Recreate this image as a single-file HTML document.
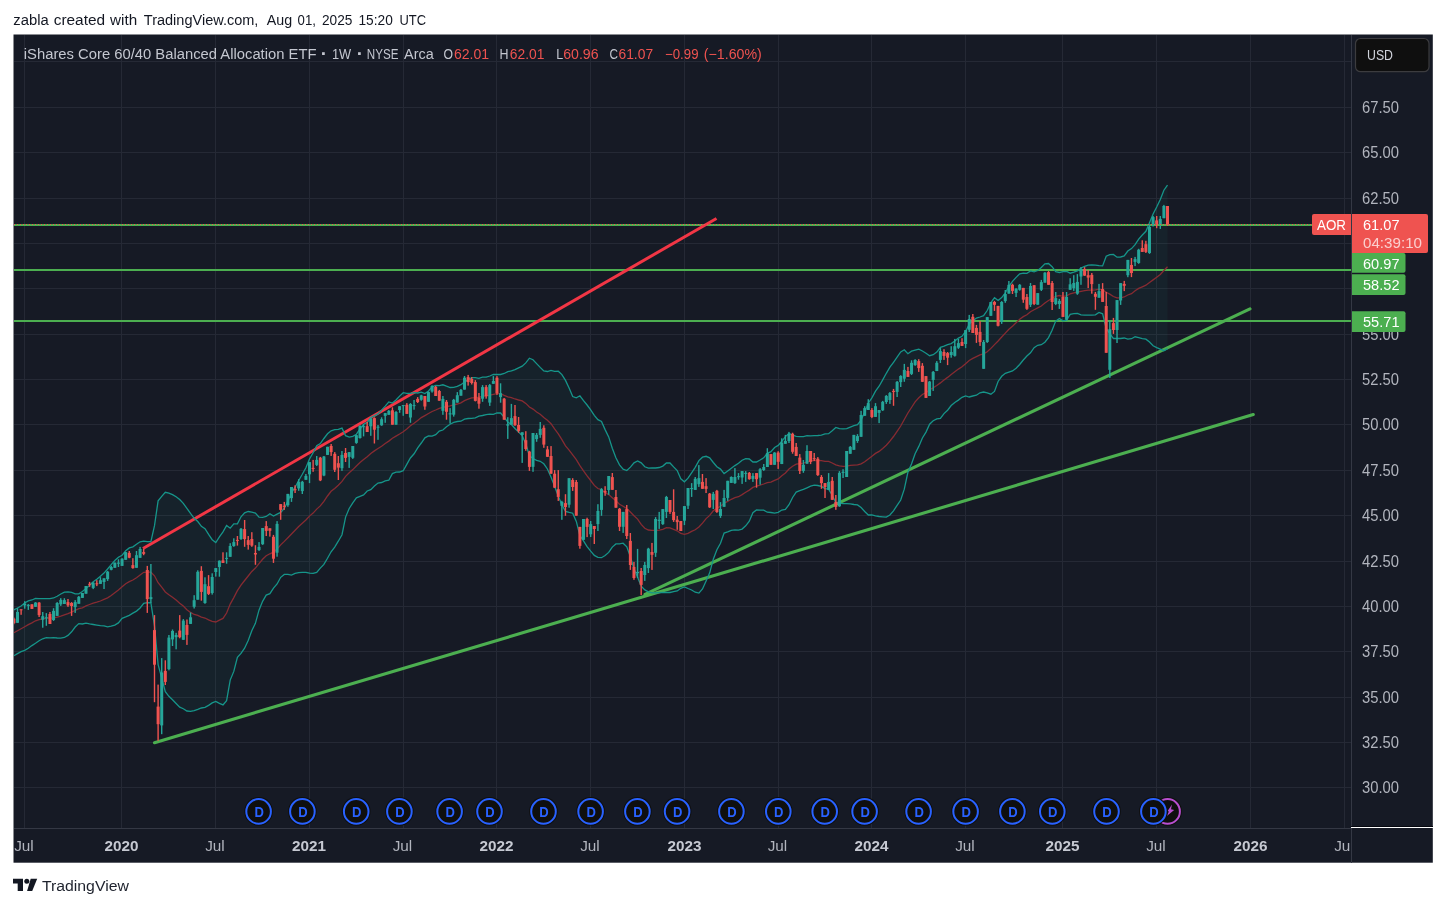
<!DOCTYPE html>
<html><head><meta charset="utf-8"><title>AOR chart</title>
<style>
html,body{margin:0;padding:0;background:#fff;}
body{width:1446px;height:907px;position:relative;overflow:hidden;font-family:'Liberation Sans',sans-serif;}
#hdr{position:absolute;left:13px;top:11px;font-size:14px;line-height:18px;color:#131722;white-space:nowrap;letter-spacing:0.5px;}
#logo{position:absolute;left:13px;top:874px;}
</style></head><body>
<svg width="1446" height="868" viewBox="0 0 1446 868" style="position:absolute;left:0;top:0;display:block">
<defs><clipPath id="pane"><rect x="14" y="35" width="1337" height="793"/></clipPath></defs>
<rect x="13.5" y="34.5" width="1419.3" height="828.2" fill="#161a25"/>
<g fill="#252935" shape-rendering="crispEdges">
<rect x="24" y="35" width="1" height="793"/>
<rect x="121" y="35" width="1" height="793"/>
<rect x="215" y="35" width="1" height="793"/>
<rect x="309" y="35" width="1" height="793"/>
<rect x="403" y="35" width="1" height="793"/>
<rect x="496" y="35" width="1" height="793"/>
<rect x="590" y="35" width="1" height="793"/>
<rect x="684" y="35" width="1" height="793"/>
<rect x="778" y="35" width="1" height="793"/>
<rect x="871" y="35" width="1" height="793"/>
<rect x="965" y="35" width="1" height="793"/>
<rect x="1062" y="35" width="1" height="793"/>
<rect x="1156" y="35" width="1" height="793"/>
<rect x="1250" y="35" width="1" height="793"/>
<rect x="1344" y="35" width="1" height="793"/>
<rect x="14" y="61" width="1337" height="1"/>
<rect x="14" y="107" width="1337" height="1"/>
<rect x="14" y="152" width="1337" height="1"/>
<rect x="14" y="198" width="1337" height="1"/>
<rect x="14" y="243" width="1337" height="1"/>
<rect x="14" y="288" width="1337" height="1"/>
<rect x="14" y="334" width="1337" height="1"/>
<rect x="14" y="379" width="1337" height="1"/>
<rect x="14" y="424" width="1337" height="1"/>
<rect x="14" y="470" width="1337" height="1"/>
<rect x="14" y="515" width="1337" height="1"/>
<rect x="14" y="561" width="1337" height="1"/>
<rect x="14" y="606" width="1337" height="1"/>
<rect x="14" y="651" width="1337" height="1"/>
<rect x="14" y="697" width="1337" height="1"/>
<rect x="14" y="742" width="1337" height="1"/>
<rect x="14" y="787" width="1337" height="1"/>
</g>
<g clip-path="url(#pane)">
<polygon points="13.9,609.9 17.5,608.0 21.1,606.0 24.7,603.0 28.3,600.9 31.9,600.0 35.5,598.3 39.1,598.6 42.7,598.7 46.3,598.7 49.9,598.7 53.6,598.0 57.2,596.3 60.8,594.0 64.4,592.2 68.0,591.8 71.6,592.4 75.2,593.8 78.8,593.8 82.4,591.5 86.0,588.6 89.6,585.2 93.2,581.8 96.8,579.3 100.4,576.2 104.0,573.1 107.6,569.0 111.2,564.7 114.8,560.5 118.4,557.2 122.1,555.2 125.7,550.8 129.3,547.9 132.9,546.9 136.5,544.3 140.1,541.8 143.7,541.2 147.3,541.6 150.9,541.6 154.5,525.7 158.1,500.8 161.7,496.3 165.3,492.3 168.9,493.1 172.5,494.7 176.1,496.7 179.7,499.6 183.3,503.4 186.9,508.3 190.5,513.4 194.2,518.3 197.8,521.5 201.4,526.3 205.0,528.6 208.6,534.4 212.2,539.7 215.8,542.6 219.4,536.8 223.0,531.9 226.6,525.5 230.2,528.2 233.8,523.9 237.4,523.8 241.0,516.8 244.6,512.8 248.2,511.5 251.8,512.2 255.4,513.0 259.0,517.2 262.6,517.3 266.2,516.5 269.9,513.8 273.5,516.0 277.1,514.2 280.7,512.4 284.3,508.3 287.9,501.0 291.5,492.8 295.1,487.2 298.7,480.5 302.3,474.3 305.9,467.7 309.5,459.0 313.1,452.8 316.7,445.8 320.3,443.6 323.9,438.5 327.5,433.8 331.1,430.8 334.7,429.7 338.3,429.3 342.0,428.1 345.6,435.7 349.2,437.1 352.8,436.4 356.4,434.2 360.0,429.0 363.6,424.3 367.2,422.4 370.8,417.5 374.4,415.9 378.0,413.9 381.6,410.1 385.2,406.1 388.8,401.9 392.4,403.0 396.0,400.0 399.6,396.1 403.2,392.7 406.8,393.4 410.4,393.4 414.1,392.7 417.7,393.0 421.3,392.2 424.9,393.5 428.5,391.0 432.1,386.8 435.7,385.3 439.3,385.6 442.9,384.8 446.5,386.2 450.1,387.5 453.7,387.4 457.3,386.4 460.9,384.7 464.5,382.0 468.1,379.7 471.7,377.6 475.3,377.6 478.9,378.3 482.5,377.2 486.2,377.2 489.8,376.0 493.4,374.3 497.0,374.5 500.6,374.5 504.2,373.5 507.8,371.6 511.4,370.8 515.0,369.6 518.6,367.8 522.2,366.2 525.8,362.9 529.4,358.2 533.0,359.7 536.6,363.6 540.2,367.4 543.8,371.0 547.4,371.5 551.0,370.4 554.6,371.3 558.3,371.2 561.9,374.6 565.5,380.4 569.1,387.9 572.7,396.5 576.3,397.9 579.9,395.8 583.5,400.7 587.1,405.0 590.7,409.9 594.3,415.3 597.9,419.7 601.5,421.5 605.1,429.6 608.7,436.9 612.3,448.3 615.9,457.7 619.5,464.8 623.1,469.2 626.8,470.5 630.4,467.1 634.0,462.8 637.6,461.0 641.2,462.8 644.8,466.8 648.4,468.1 652.0,468.0 655.6,468.0 659.2,467.5 662.8,466.1 666.4,462.9 670.0,463.0 673.6,466.9 677.2,470.6 680.8,478.8 684.4,481.8 688.0,478.2 691.6,472.8 695.2,467.3 698.9,460.6 702.5,457.2 706.1,456.3 709.7,457.9 713.3,462.5 716.9,466.7 720.5,469.1 724.1,473.6 727.7,471.0 731.3,468.3 734.9,465.6 738.5,463.2 742.1,460.2 745.7,458.7 749.3,459.0 752.9,462.0 756.5,462.0 760.1,460.0 763.7,457.8 767.3,453.3 770.9,451.7 774.6,447.5 778.2,445.4 781.8,441.3 785.4,436.6 789.0,433.5 792.6,435.0 796.2,436.3 799.8,436.6 803.4,436.7 807.0,435.7 810.6,435.9 814.2,435.7 817.8,435.5 821.4,435.1 825.0,433.9 828.6,433.7 832.2,430.7 835.8,427.4 839.4,428.7 843.0,428.9 846.7,428.7 850.3,427.1 853.9,425.6 857.5,424.7 861.1,420.2 864.7,411.9 868.3,403.1 871.9,397.8 875.5,391.1 879.1,386.2 882.7,379.9 886.3,373.3 889.9,367.2 893.5,362.3 897.1,357.2 900.7,352.0 904.3,349.8 907.9,353.7 911.5,351.1 915.1,350.1 918.8,349.1 922.4,351.0 926.0,353.2 929.6,355.7 933.2,354.7 936.8,352.1 940.4,347.4 944.0,346.1 947.6,344.7 951.2,343.6 954.8,341.1 958.4,338.1 962.0,336.3 965.6,331.5 969.2,324.1 972.8,320.8 976.4,318.1 980.0,317.0 983.6,315.7 987.2,310.5 990.9,302.7 994.5,297.7 998.1,300.4 1001.7,297.6 1005.3,292.9 1008.9,286.3 1012.5,281.4 1016.1,277.4 1019.7,273.9 1023.3,273.1 1026.9,273.4 1030.5,270.9 1034.1,271.8 1037.7,270.5 1041.3,267.4 1044.9,263.9 1048.5,263.5 1052.1,266.7 1055.7,271.6 1059.4,272.5 1063.0,271.6 1066.6,271.5 1070.2,273.2 1073.8,272.1 1077.4,270.9 1081.0,268.0 1084.6,266.3 1088.2,265.1 1091.8,265.0 1095.4,265.1 1099.0,265.7 1102.6,265.9 1106.2,256.2 1109.8,254.6 1113.4,254.4 1117.0,257.2 1120.6,257.0 1124.2,256.0 1127.8,251.0 1131.5,248.6 1135.1,244.7 1138.7,239.1 1142.3,235.0 1145.9,231.3 1149.5,222.8 1153.1,213.9 1156.7,207.0 1160.3,199.6 1163.9,190.2 1167.5,185.1 1167.5,348.6 1163.9,350.7 1160.3,349.1 1156.7,347.6 1153.1,345.8 1149.5,342.1 1145.9,339.2 1142.3,338.6 1138.7,337.7 1135.1,336.8 1131.5,338.7 1127.8,339.1 1124.2,338.0 1120.6,338.5 1117.0,338.5 1113.4,338.5 1109.8,333.6 1106.2,328.4 1102.6,313.8 1099.0,312.4 1095.4,314.8 1091.8,315.2 1088.2,315.2 1084.6,315.1 1081.0,314.9 1077.4,313.5 1073.8,313.6 1070.2,314.4 1066.6,320.2 1063.0,320.9 1059.4,318.5 1055.7,321.1 1052.1,330.3 1048.5,337.6 1044.9,342.2 1041.3,344.7 1037.7,345.3 1034.1,347.7 1030.5,352.8 1026.9,356.0 1023.3,360.0 1019.7,364.5 1016.1,368.2 1012.5,370.9 1008.9,372.1 1005.3,373.3 1001.7,376.3 998.1,381.5 994.5,391.4 990.9,394.2 987.2,392.9 983.6,392.0 980.0,392.8 976.4,395.2 972.8,396.0 969.2,397.0 965.6,395.9 962.0,397.3 958.4,400.1 954.8,402.4 951.2,405.5 947.6,410.2 944.0,413.6 940.4,418.4 936.8,418.9 933.2,420.8 929.6,424.2 926.0,432.1 922.4,438.0 918.8,446.4 915.1,453.7 911.5,463.9 907.9,472.3 904.3,489.2 900.7,500.0 897.1,505.4 893.5,510.8 889.9,515.0 886.3,517.1 882.7,516.8 879.1,516.5 875.5,515.8 871.9,514.9 868.3,515.0 864.7,511.5 861.1,507.6 857.5,504.9 853.9,504.5 850.3,503.8 846.7,503.7 843.0,503.6 839.4,503.2 835.8,502.5 832.2,495.2 828.6,489.1 825.0,488.6 821.4,486.4 817.8,485.5 814.2,485.2 810.6,486.2 807.0,487.8 803.4,489.4 799.8,490.7 796.2,492.1 792.6,497.5 789.0,504.7 785.4,509.4 781.8,510.0 778.2,512.4 774.6,513.1 770.9,512.5 767.3,512.2 763.7,510.2 760.1,510.2 756.5,510.0 752.9,512.7 749.3,521.2 745.7,525.8 742.1,529.1 738.5,530.1 734.9,529.8 731.3,530.3 727.7,531.9 724.1,533.1 720.5,543.3 716.9,549.7 713.3,559.2 709.7,572.8 706.1,580.9 702.5,588.9 698.9,593.1 695.2,592.2 691.6,590.0 688.0,588.5 684.4,586.9 680.8,588.3 677.2,591.0 673.6,591.7 670.0,592.5 666.4,592.5 662.8,592.5 659.2,592.7 655.6,592.9 652.0,592.9 648.4,591.8 644.8,589.9 641.2,586.1 637.6,577.2 634.0,568.8 630.4,556.9 626.8,546.8 623.1,543.2 619.5,543.8 615.9,543.9 612.3,547.1 608.7,552.4 605.1,555.5 601.5,557.7 597.9,557.3 594.3,555.4 590.7,551.2 587.1,546.7 583.5,540.9 579.9,535.7 576.3,521.4 572.7,513.2 569.1,512.4 565.5,511.4 561.9,504.7 558.3,496.3 554.6,486.2 551.0,477.1 547.4,469.0 543.8,463.8 540.2,461.3 536.6,460.4 533.0,458.5 529.4,455.8 525.8,443.9 522.2,435.6 518.6,432.1 515.0,428.5 511.4,424.6 507.8,422.1 504.2,417.4 500.6,413.0 497.0,412.9 493.4,414.4 489.8,414.1 486.2,414.6 482.5,415.5 478.9,416.1 475.3,417.8 471.7,418.3 468.1,418.5 464.5,419.1 460.9,421.2 457.3,421.5 453.7,422.4 450.1,424.2 446.5,426.8 442.9,430.0 439.3,431.1 435.7,434.6 432.1,436.2 428.5,436.0 424.9,437.8 421.3,443.0 417.7,447.8 414.1,453.8 410.4,458.0 406.8,464.4 403.2,470.7 399.6,472.0 396.0,472.1 392.4,473.6 388.8,480.2 385.2,480.9 381.6,482.5 378.0,483.0 374.4,486.0 370.8,489.6 367.2,491.0 363.6,494.9 360.0,496.3 356.4,497.8 352.8,502.8 349.2,508.5 345.6,517.1 342.0,534.7 338.3,541.2 334.7,547.1 331.1,551.8 327.5,558.3 323.9,564.4 320.3,568.1 316.7,572.4 313.1,573.4 309.5,573.2 305.9,572.3 302.3,572.3 298.7,572.6 295.1,573.4 291.5,575.1 287.9,574.3 284.3,574.4 280.7,577.3 277.1,584.0 273.5,588.2 269.9,593.7 266.2,595.1 262.6,601.3 259.0,610.2 255.4,623.3 251.8,630.7 248.2,640.5 244.6,648.2 241.0,653.4 237.4,657.4 233.8,671.4 230.2,680.1 226.6,700.6 223.0,704.9 219.4,703.4 215.8,701.4 212.2,702.9 208.6,705.4 205.0,707.4 201.4,708.0 197.8,709.4 194.2,710.6 190.5,711.4 186.9,711.0 183.3,708.7 179.7,707.1 176.1,703.5 172.5,699.8 168.9,696.3 165.3,691.7 161.7,677.9 158.1,664.6 154.5,625.9 150.9,602.8 147.3,602.7 143.7,603.4 140.1,608.0 136.5,611.1 132.9,613.1 129.3,615.3 125.7,616.9 122.1,618.4 118.4,622.9 114.8,625.1 111.2,626.2 107.6,626.8 104.0,625.8 100.4,625.7 96.8,625.1 93.2,624.5 89.6,623.9 86.0,623.2 82.4,624.0 78.8,623.6 75.2,627.0 71.6,631.8 68.0,635.4 64.4,637.5 60.8,638.2 57.2,638.0 53.6,637.7 49.9,637.8 46.3,637.7 42.7,638.8 39.1,640.7 35.5,643.3 31.9,645.6 28.3,648.3 24.7,650.3 21.1,651.7 17.5,653.6 13.9,655.7" fill="#26a69a" fill-opacity="0.06"/>
<line x1="14" y1="225.0" x2="1351" y2="225.0" stroke="#4caf50" stroke-width="2" shape-rendering="crispEdges"/>
<line x1="14" y1="270.0" x2="1351" y2="270.0" stroke="#4caf50" stroke-width="2" shape-rendering="crispEdges"/>
<line x1="14" y1="321.0" x2="1351" y2="321.0" stroke="#4caf50" stroke-width="2" shape-rendering="crispEdges"/>
<line x1="143" y1="548.5" x2="716.5" y2="218.5" stroke="#f23645" stroke-width="3"/>
<line x1="154.5" y1="742.7" x2="1253.3" y2="414.6" stroke="#4caf50" stroke-width="3.1" stroke-linecap="round"/>
<line x1="645" y1="594.4" x2="1250" y2="308.8" stroke="#4caf50" stroke-width="3.1" stroke-linecap="round"/>
<polyline points="13.9,632.8 17.5,630.8 21.1,628.8 24.7,626.7 28.3,624.6 31.9,622.8 35.5,620.8 39.1,619.6 42.7,618.8 46.3,618.2 49.9,618.2 53.6,617.9 57.2,617.1 60.8,616.1 64.4,614.8 68.0,613.6 71.6,612.1 75.2,610.4 78.8,608.7 82.4,607.8 86.0,605.9 89.6,604.5 93.2,603.2 96.8,602.2 100.4,601.0 104.0,599.4 107.6,597.9 111.2,595.5 114.8,592.8 118.4,590.0 122.1,586.8 125.7,583.8 129.3,581.6 132.9,580.0 136.5,577.7 140.1,574.9 143.7,572.3 147.3,572.2 150.9,572.2 154.5,575.8 158.1,582.7 161.7,587.1 165.3,592.0 168.9,594.7 172.5,597.2 176.1,600.1 179.7,603.3 183.3,606.0 186.9,609.7 190.5,612.4 194.2,614.5 197.8,615.4 201.4,617.2 205.0,618.0 208.6,619.9 212.2,621.3 215.8,622.0 219.4,620.1 223.0,618.4 226.6,613.0 230.2,604.1 233.8,597.6 237.4,590.6 241.0,585.1 244.6,580.5 248.2,576.0 251.8,571.4 255.4,568.1 259.0,563.7 262.6,559.3 266.2,555.8 269.9,553.8 273.5,552.1 277.1,549.1 280.7,544.9 284.3,541.4 287.9,537.7 291.5,534.0 295.1,530.3 298.7,526.5 302.3,523.3 305.9,520.0 309.5,516.1 313.1,513.1 316.7,509.1 320.3,505.9 323.9,501.4 327.5,496.0 331.1,491.3 334.7,488.4 338.3,485.2 342.0,481.4 345.6,476.4 349.2,472.8 352.8,469.6 356.4,466.0 360.0,462.6 363.6,459.6 367.2,456.7 370.8,453.5 374.4,450.9 378.0,448.5 381.6,446.3 385.2,443.5 388.8,441.1 392.4,438.3 396.0,436.1 399.6,434.0 403.2,431.7 406.8,428.9 410.4,425.7 414.1,423.2 417.7,420.4 421.3,417.6 424.9,415.6 428.5,413.5 432.1,411.5 435.7,410.0 439.3,408.4 442.9,407.4 446.5,406.5 450.1,405.8 453.7,404.9 457.3,404.0 460.9,402.9 464.5,400.6 468.1,399.1 471.7,397.9 475.3,397.7 478.9,397.2 482.5,396.4 486.2,395.9 489.8,395.1 493.4,394.4 497.0,393.7 500.6,393.7 504.2,395.4 507.8,396.8 511.4,397.7 515.0,399.0 518.6,400.0 522.2,400.9 525.8,403.4 529.4,407.0 533.0,409.1 536.6,412.0 540.2,414.3 543.8,417.4 547.4,420.2 551.0,423.7 554.6,428.8 558.3,433.8 561.9,439.6 565.5,445.9 569.1,450.2 572.7,454.9 576.3,459.7 579.9,465.7 583.5,470.8 587.1,475.9 590.7,480.5 594.3,485.4 597.9,488.5 601.5,489.6 605.1,492.6 608.7,494.6 612.3,497.7 615.9,500.8 619.5,504.3 623.1,506.2 626.8,508.6 630.4,512.0 634.0,515.8 637.6,519.1 641.2,524.4 644.8,528.3 648.4,530.0 652.0,530.4 655.6,530.4 659.2,530.1 662.8,529.3 666.4,527.7 670.0,527.8 673.6,529.3 677.2,530.8 680.8,533.5 684.4,534.3 688.0,533.4 691.6,531.4 695.2,529.8 698.9,526.9 702.5,523.1 706.1,518.6 709.7,515.4 713.3,510.8 716.9,508.2 720.5,506.2 724.1,503.3 727.7,501.4 731.3,499.3 734.9,497.7 738.5,496.7 742.1,494.6 745.7,492.3 749.3,490.1 752.9,487.4 756.5,486.0 760.1,485.1 763.7,484.0 767.3,482.7 770.9,482.1 774.6,480.3 778.2,478.9 781.8,475.7 785.4,473.0 789.0,469.1 792.6,466.3 796.2,464.2 799.8,463.7 803.4,463.1 807.0,461.8 810.6,461.0 814.2,460.4 817.8,460.5 821.4,460.7 825.0,461.3 828.6,461.4 832.2,463.0 835.8,464.9 839.4,465.9 843.0,466.3 846.7,466.2 850.3,465.4 853.9,465.1 857.5,464.8 861.1,463.9 864.7,461.7 868.3,459.0 871.9,456.3 875.5,453.4 879.1,451.4 882.7,448.4 886.3,445.2 889.9,441.1 893.5,436.5 897.1,431.3 900.7,426.0 904.3,419.5 907.9,413.0 911.5,407.5 915.1,401.9 918.8,397.8 922.4,394.5 926.0,392.7 929.6,389.9 933.2,387.8 936.8,385.5 940.4,382.9 944.0,379.9 947.6,377.4 951.2,374.5 954.8,371.8 958.4,369.1 962.0,366.8 965.6,363.7 969.2,360.5 972.8,358.4 976.4,356.6 980.0,354.9 983.6,353.9 987.2,351.7 990.9,348.4 994.5,344.6 998.1,341.0 1001.7,337.0 1005.3,333.1 1008.9,329.2 1012.5,326.2 1016.1,322.8 1019.7,319.2 1023.3,316.6 1026.9,314.7 1030.5,311.8 1034.1,309.7 1037.7,307.9 1041.3,306.0 1044.9,303.0 1048.5,300.5 1052.1,298.5 1055.7,296.3 1059.4,295.5 1063.0,296.3 1066.6,295.9 1070.2,293.8 1073.8,292.8 1077.4,292.2 1081.0,291.4 1084.6,290.7 1088.2,290.1 1091.8,290.1 1095.4,289.9 1099.0,289.1 1102.6,289.8 1106.2,292.3 1109.8,294.1 1113.4,296.5 1117.0,297.9 1120.6,297.8 1124.2,297.0 1127.8,295.0 1131.5,293.7 1135.1,290.8 1138.7,288.4 1142.3,286.8 1145.9,285.2 1149.5,282.5 1153.1,279.9 1156.7,277.3 1160.3,274.4 1163.9,270.5 1167.5,266.8" fill="none" stroke="#872b32" stroke-width="1.3"/>
<polyline points="13.9,609.9 17.5,608.0 21.1,606.0 24.7,603.0 28.3,600.9 31.9,600.0 35.5,598.3 39.1,598.6 42.7,598.7 46.3,598.7 49.9,598.7 53.6,598.0 57.2,596.3 60.8,594.0 64.4,592.2 68.0,591.8 71.6,592.4 75.2,593.8 78.8,593.8 82.4,591.5 86.0,588.6 89.6,585.2 93.2,581.8 96.8,579.3 100.4,576.2 104.0,573.1 107.6,569.0 111.2,564.7 114.8,560.5 118.4,557.2 122.1,555.2 125.7,550.8 129.3,547.9 132.9,546.9 136.5,544.3 140.1,541.8 143.7,541.2 147.3,541.6 150.9,541.6 154.5,525.7 158.1,500.8 161.7,496.3 165.3,492.3 168.9,493.1 172.5,494.7 176.1,496.7 179.7,499.6 183.3,503.4 186.9,508.3 190.5,513.4 194.2,518.3 197.8,521.5 201.4,526.3 205.0,528.6 208.6,534.4 212.2,539.7 215.8,542.6 219.4,536.8 223.0,531.9 226.6,525.5 230.2,528.2 233.8,523.9 237.4,523.8 241.0,516.8 244.6,512.8 248.2,511.5 251.8,512.2 255.4,513.0 259.0,517.2 262.6,517.3 266.2,516.5 269.9,513.8 273.5,516.0 277.1,514.2 280.7,512.4 284.3,508.3 287.9,501.0 291.5,492.8 295.1,487.2 298.7,480.5 302.3,474.3 305.9,467.7 309.5,459.0 313.1,452.8 316.7,445.8 320.3,443.6 323.9,438.5 327.5,433.8 331.1,430.8 334.7,429.7 338.3,429.3 342.0,428.1 345.6,435.7 349.2,437.1 352.8,436.4 356.4,434.2 360.0,429.0 363.6,424.3 367.2,422.4 370.8,417.5 374.4,415.9 378.0,413.9 381.6,410.1 385.2,406.1 388.8,401.9 392.4,403.0 396.0,400.0 399.6,396.1 403.2,392.7 406.8,393.4 410.4,393.4 414.1,392.7 417.7,393.0 421.3,392.2 424.9,393.5 428.5,391.0 432.1,386.8 435.7,385.3 439.3,385.6 442.9,384.8 446.5,386.2 450.1,387.5 453.7,387.4 457.3,386.4 460.9,384.7 464.5,382.0 468.1,379.7 471.7,377.6 475.3,377.6 478.9,378.3 482.5,377.2 486.2,377.2 489.8,376.0 493.4,374.3 497.0,374.5 500.6,374.5 504.2,373.5 507.8,371.6 511.4,370.8 515.0,369.6 518.6,367.8 522.2,366.2 525.8,362.9 529.4,358.2 533.0,359.7 536.6,363.6 540.2,367.4 543.8,371.0 547.4,371.5 551.0,370.4 554.6,371.3 558.3,371.2 561.9,374.6 565.5,380.4 569.1,387.9 572.7,396.5 576.3,397.9 579.9,395.8 583.5,400.7 587.1,405.0 590.7,409.9 594.3,415.3 597.9,419.7 601.5,421.5 605.1,429.6 608.7,436.9 612.3,448.3 615.9,457.7 619.5,464.8 623.1,469.2 626.8,470.5 630.4,467.1 634.0,462.8 637.6,461.0 641.2,462.8 644.8,466.8 648.4,468.1 652.0,468.0 655.6,468.0 659.2,467.5 662.8,466.1 666.4,462.9 670.0,463.0 673.6,466.9 677.2,470.6 680.8,478.8 684.4,481.8 688.0,478.2 691.6,472.8 695.2,467.3 698.9,460.6 702.5,457.2 706.1,456.3 709.7,457.9 713.3,462.5 716.9,466.7 720.5,469.1 724.1,473.6 727.7,471.0 731.3,468.3 734.9,465.6 738.5,463.2 742.1,460.2 745.7,458.7 749.3,459.0 752.9,462.0 756.5,462.0 760.1,460.0 763.7,457.8 767.3,453.3 770.9,451.7 774.6,447.5 778.2,445.4 781.8,441.3 785.4,436.6 789.0,433.5 792.6,435.0 796.2,436.3 799.8,436.6 803.4,436.7 807.0,435.7 810.6,435.9 814.2,435.7 817.8,435.5 821.4,435.1 825.0,433.9 828.6,433.7 832.2,430.7 835.8,427.4 839.4,428.7 843.0,428.9 846.7,428.7 850.3,427.1 853.9,425.6 857.5,424.7 861.1,420.2 864.7,411.9 868.3,403.1 871.9,397.8 875.5,391.1 879.1,386.2 882.7,379.9 886.3,373.3 889.9,367.2 893.5,362.3 897.1,357.2 900.7,352.0 904.3,349.8 907.9,353.7 911.5,351.1 915.1,350.1 918.8,349.1 922.4,351.0 926.0,353.2 929.6,355.7 933.2,354.7 936.8,352.1 940.4,347.4 944.0,346.1 947.6,344.7 951.2,343.6 954.8,341.1 958.4,338.1 962.0,336.3 965.6,331.5 969.2,324.1 972.8,320.8 976.4,318.1 980.0,317.0 983.6,315.7 987.2,310.5 990.9,302.7 994.5,297.7 998.1,300.4 1001.7,297.6 1005.3,292.9 1008.9,286.3 1012.5,281.4 1016.1,277.4 1019.7,273.9 1023.3,273.1 1026.9,273.4 1030.5,270.9 1034.1,271.8 1037.7,270.5 1041.3,267.4 1044.9,263.9 1048.5,263.5 1052.1,266.7 1055.7,271.6 1059.4,272.5 1063.0,271.6 1066.6,271.5 1070.2,273.2 1073.8,272.1 1077.4,270.9 1081.0,268.0 1084.6,266.3 1088.2,265.1 1091.8,265.0 1095.4,265.1 1099.0,265.7 1102.6,265.9 1106.2,256.2 1109.8,254.6 1113.4,254.4 1117.0,257.2 1120.6,257.0 1124.2,256.0 1127.8,251.0 1131.5,248.6 1135.1,244.7 1138.7,239.1 1142.3,235.0 1145.9,231.3 1149.5,222.8 1153.1,213.9 1156.7,207.0 1160.3,199.6 1163.9,190.2 1167.5,185.1" fill="none" stroke="#16958a" stroke-width="1.3"/>
<polyline points="13.9,655.7 17.5,653.6 21.1,651.7 24.7,650.3 28.3,648.3 31.9,645.6 35.5,643.3 39.1,640.7 42.7,638.8 46.3,637.7 49.9,637.8 53.6,637.7 57.2,638.0 60.8,638.2 64.4,637.5 68.0,635.4 71.6,631.8 75.2,627.0 78.8,623.6 82.4,624.0 86.0,623.2 89.6,623.9 93.2,624.5 96.8,625.1 100.4,625.7 104.0,625.8 107.6,626.8 111.2,626.2 114.8,625.1 118.4,622.9 122.1,618.4 125.7,616.9 129.3,615.3 132.9,613.1 136.5,611.1 140.1,608.0 143.7,603.4 147.3,602.7 150.9,602.8 154.5,625.9 158.1,664.6 161.7,677.9 165.3,691.7 168.9,696.3 172.5,699.8 176.1,703.5 179.7,707.1 183.3,708.7 186.9,711.0 190.5,711.4 194.2,710.6 197.8,709.4 201.4,708.0 205.0,707.4 208.6,705.4 212.2,702.9 215.8,701.4 219.4,703.4 223.0,704.9 226.6,700.6 230.2,680.1 233.8,671.4 237.4,657.4 241.0,653.4 244.6,648.2 248.2,640.5 251.8,630.7 255.4,623.3 259.0,610.2 262.6,601.3 266.2,595.1 269.9,593.7 273.5,588.2 277.1,584.0 280.7,577.3 284.3,574.4 287.9,574.3 291.5,575.1 295.1,573.4 298.7,572.6 302.3,572.3 305.9,572.3 309.5,573.2 313.1,573.4 316.7,572.4 320.3,568.1 323.9,564.4 327.5,558.3 331.1,551.8 334.7,547.1 338.3,541.2 342.0,534.7 345.6,517.1 349.2,508.5 352.8,502.8 356.4,497.8 360.0,496.3 363.6,494.9 367.2,491.0 370.8,489.6 374.4,486.0 378.0,483.0 381.6,482.5 385.2,480.9 388.8,480.2 392.4,473.6 396.0,472.1 399.6,472.0 403.2,470.7 406.8,464.4 410.4,458.0 414.1,453.8 417.7,447.8 421.3,443.0 424.9,437.8 428.5,436.0 432.1,436.2 435.7,434.6 439.3,431.1 442.9,430.0 446.5,426.8 450.1,424.2 453.7,422.4 457.3,421.5 460.9,421.2 464.5,419.1 468.1,418.5 471.7,418.3 475.3,417.8 478.9,416.1 482.5,415.5 486.2,414.6 489.8,414.1 493.4,414.4 497.0,412.9 500.6,413.0 504.2,417.4 507.8,422.1 511.4,424.6 515.0,428.5 518.6,432.1 522.2,435.6 525.8,443.9 529.4,455.8 533.0,458.5 536.6,460.4 540.2,461.3 543.8,463.8 547.4,469.0 551.0,477.1 554.6,486.2 558.3,496.3 561.9,504.7 565.5,511.4 569.1,512.4 572.7,513.2 576.3,521.4 579.9,535.7 583.5,540.9 587.1,546.7 590.7,551.2 594.3,555.4 597.9,557.3 601.5,557.7 605.1,555.5 608.7,552.4 612.3,547.1 615.9,543.9 619.5,543.8 623.1,543.2 626.8,546.8 630.4,556.9 634.0,568.8 637.6,577.2 641.2,586.1 644.8,589.9 648.4,591.8 652.0,592.9 655.6,592.9 659.2,592.7 662.8,592.5 666.4,592.5 670.0,592.5 673.6,591.7 677.2,591.0 680.8,588.3 684.4,586.9 688.0,588.5 691.6,590.0 695.2,592.2 698.9,593.1 702.5,588.9 706.1,580.9 709.7,572.8 713.3,559.2 716.9,549.7 720.5,543.3 724.1,533.1 727.7,531.9 731.3,530.3 734.9,529.8 738.5,530.1 742.1,529.1 745.7,525.8 749.3,521.2 752.9,512.7 756.5,510.0 760.1,510.2 763.7,510.2 767.3,512.2 770.9,512.5 774.6,513.1 778.2,512.4 781.8,510.0 785.4,509.4 789.0,504.7 792.6,497.5 796.2,492.1 799.8,490.7 803.4,489.4 807.0,487.8 810.6,486.2 814.2,485.2 817.8,485.5 821.4,486.4 825.0,488.6 828.6,489.1 832.2,495.2 835.8,502.5 839.4,503.2 843.0,503.6 846.7,503.7 850.3,503.8 853.9,504.5 857.5,504.9 861.1,507.6 864.7,511.5 868.3,515.0 871.9,514.9 875.5,515.8 879.1,516.5 882.7,516.8 886.3,517.1 889.9,515.0 893.5,510.8 897.1,505.4 900.7,500.0 904.3,489.2 907.9,472.3 911.5,463.9 915.1,453.7 918.8,446.4 922.4,438.0 926.0,432.1 929.6,424.2 933.2,420.8 936.8,418.9 940.4,418.4 944.0,413.6 947.6,410.2 951.2,405.5 954.8,402.4 958.4,400.1 962.0,397.3 965.6,395.9 969.2,397.0 972.8,396.0 976.4,395.2 980.0,392.8 983.6,392.0 987.2,392.9 990.9,394.2 994.5,391.4 998.1,381.5 1001.7,376.3 1005.3,373.3 1008.9,372.1 1012.5,370.9 1016.1,368.2 1019.7,364.5 1023.3,360.0 1026.9,356.0 1030.5,352.8 1034.1,347.7 1037.7,345.3 1041.3,344.7 1044.9,342.2 1048.5,337.6 1052.1,330.3 1055.7,321.1 1059.4,318.5 1063.0,320.9 1066.6,320.2 1070.2,314.4 1073.8,313.6 1077.4,313.5 1081.0,314.9 1084.6,315.1 1088.2,315.2 1091.8,315.2 1095.4,314.8 1099.0,312.4 1102.6,313.8 1106.2,328.4 1109.8,333.6 1113.4,338.5 1117.0,338.5 1120.6,338.5 1124.2,338.0 1127.8,339.1 1131.5,338.7 1135.1,336.8 1138.7,337.7 1142.3,338.6 1145.9,339.2 1149.5,342.1 1153.1,345.8 1156.7,347.6 1160.3,349.1 1163.9,350.7 1167.5,348.6" fill="none" stroke="#16958a" stroke-width="1.3"/>
<g>
<rect x="13.20" y="617.6" width="1.4" height="6.6" fill="#ef5350"/>
<rect x="12.40" y="618.7" width="3" height="4.4" fill="#ef5350"/>
<rect x="16.80" y="608.2" width="1.4" height="14.7" fill="#26a69a"/>
<rect x="16.00" y="612.0" width="3" height="10.8" fill="#26a69a"/>
<rect x="20.41" y="609.3" width="1.4" height="5.5" fill="#ef5350"/>
<rect x="19.61" y="609.3" width="3" height="1.0" fill="#ef5350"/>
<rect x="24.02" y="601.2" width="1.4" height="7.5" fill="#26a69a"/>
<rect x="23.21" y="603.7" width="3" height="1.7" fill="#26a69a"/>
<rect x="27.62" y="604.1" width="1.4" height="5.8" fill="#26a69a"/>
<rect x="26.82" y="604.8" width="3" height="1.1" fill="#26a69a"/>
<rect x="31.22" y="604.3" width="1.4" height="4.6" fill="#ef5350"/>
<rect x="30.42" y="604.3" width="3" height="4.6" fill="#ef5350"/>
<rect x="34.83" y="602.1" width="1.4" height="4.8" fill="#26a69a"/>
<rect x="34.03" y="602.6" width="3" height="4.2" fill="#26a69a"/>
<rect x="38.43" y="602.1" width="1.4" height="14.9" fill="#ef5350"/>
<rect x="37.63" y="602.6" width="3" height="12.5" fill="#ef5350"/>
<rect x="42.04" y="612.0" width="1.4" height="15.7" fill="#26a69a"/>
<rect x="41.24" y="616.2" width="3" height="3.5" fill="#26a69a"/>
<rect x="45.64" y="613.1" width="1.4" height="12.7" fill="#26a69a"/>
<rect x="44.84" y="617.3" width="3" height="1.0" fill="#26a69a"/>
<rect x="49.25" y="612.0" width="1.4" height="11.9" fill="#ef5350"/>
<rect x="48.45" y="614.0" width="3" height="10.0" fill="#ef5350"/>
<rect x="52.85" y="608.2" width="1.4" height="12.7" fill="#26a69a"/>
<rect x="52.05" y="610.9" width="3" height="9.1" fill="#26a69a"/>
<rect x="56.46" y="602.1" width="1.4" height="13.8" fill="#26a69a"/>
<rect x="55.66" y="603.0" width="3" height="12.9" fill="#26a69a"/>
<rect x="60.06" y="598.2" width="1.4" height="7.7" fill="#26a69a"/>
<rect x="59.27" y="599.9" width="3" height="4.4" fill="#26a69a"/>
<rect x="63.67" y="598.2" width="1.4" height="5.8" fill="#26a69a"/>
<rect x="62.87" y="600.1" width="3" height="3.9" fill="#26a69a"/>
<rect x="67.28" y="599.0" width="1.4" height="7.9" fill="#ef5350"/>
<rect x="66.48" y="602.1" width="3" height="3.3" fill="#ef5350"/>
<rect x="70.88" y="602.1" width="1.4" height="13.8" fill="#ef5350"/>
<rect x="70.08" y="603.0" width="3" height="3.0" fill="#ef5350"/>
<rect x="74.48" y="600.1" width="1.4" height="12.8" fill="#26a69a"/>
<rect x="73.69" y="602.1" width="3" height="5.0" fill="#26a69a"/>
<rect x="78.09" y="596.0" width="1.4" height="7.7" fill="#26a69a"/>
<rect x="77.29" y="596.8" width="3" height="7.0" fill="#26a69a"/>
<rect x="81.70" y="593.0" width="1.4" height="4.9" fill="#26a69a"/>
<rect x="80.90" y="593.0" width="3" height="4.9" fill="#26a69a"/>
<rect x="85.30" y="586.0" width="1.4" height="7.7" fill="#26a69a"/>
<rect x="84.50" y="586.0" width="3" height="7.7" fill="#26a69a"/>
<rect x="88.91" y="581.9" width="1.4" height="4.9" fill="#ef5350"/>
<rect x="88.11" y="583.8" width="3" height="1.0" fill="#ef5350"/>
<rect x="92.51" y="582.2" width="1.4" height="6.9" fill="#26a69a"/>
<rect x="91.71" y="582.7" width="3" height="5.2" fill="#26a69a"/>
<rect x="96.12" y="580.2" width="1.4" height="5.9" fill="#ef5350"/>
<rect x="95.32" y="583.3" width="3" height="1.0" fill="#ef5350"/>
<rect x="99.72" y="577.2" width="1.4" height="6.6" fill="#26a69a"/>
<rect x="98.92" y="580.2" width="3" height="3.7" fill="#26a69a"/>
<rect x="103.33" y="578.3" width="1.4" height="10.7" fill="#26a69a"/>
<rect x="102.53" y="578.3" width="3" height="3.7" fill="#26a69a"/>
<rect x="106.93" y="570.9" width="1.4" height="10.0" fill="#26a69a"/>
<rect x="106.13" y="571.7" width="3" height="7.4" fill="#26a69a"/>
<rect x="110.53" y="565.9" width="1.4" height="4.4" fill="#26a69a"/>
<rect x="109.73" y="567.0" width="3" height="2.8" fill="#26a69a"/>
<rect x="114.14" y="562.6" width="1.4" height="5.2" fill="#26a69a"/>
<rect x="113.34" y="562.6" width="3" height="5.2" fill="#26a69a"/>
<rect x="117.75" y="559.3" width="1.4" height="7.7" fill="#26a69a"/>
<rect x="116.95" y="562.6" width="3" height="1.1" fill="#26a69a"/>
<rect x="121.35" y="558.2" width="1.4" height="7.7" fill="#26a69a"/>
<rect x="120.55" y="558.7" width="3" height="7.2" fill="#26a69a"/>
<rect x="124.95" y="552.1" width="1.4" height="7.7" fill="#26a69a"/>
<rect x="124.16" y="552.1" width="3" height="7.7" fill="#26a69a"/>
<rect x="128.56" y="551.0" width="1.4" height="7.2" fill="#ef5350"/>
<rect x="127.76" y="552.9" width="3" height="4.8" fill="#ef5350"/>
<rect x="132.17" y="558.2" width="1.4" height="10.5" fill="#ef5350"/>
<rect x="131.37" y="565.1" width="3" height="3.0" fill="#ef5350"/>
<rect x="135.77" y="551.0" width="1.4" height="16.8" fill="#26a69a"/>
<rect x="134.97" y="555.2" width="3" height="12.6" fill="#26a69a"/>
<rect x="139.38" y="546.9" width="1.4" height="11.0" fill="#26a69a"/>
<rect x="138.57" y="549.0" width="3" height="8.8" fill="#26a69a"/>
<rect x="142.98" y="549.0" width="1.4" height="6.2" fill="#ef5350"/>
<rect x="142.18" y="552.1" width="3" height="1.7" fill="#ef5350"/>
<rect x="146.59" y="565.9" width="1.4" height="47.0" fill="#ef5350"/>
<rect x="145.78" y="570.0" width="3" height="29.1" fill="#ef5350"/>
<rect x="150.19" y="564.0" width="1.4" height="38.9" fill="#26a69a"/>
<rect x="149.39" y="597.1" width="3" height="2.0" fill="#26a69a"/>
<rect x="153.80" y="615.1" width="1.4" height="87.1" fill="#ef5350"/>
<rect x="153.00" y="630.1" width="3" height="34.6" fill="#ef5350"/>
<rect x="157.40" y="684.6" width="1.4" height="56.2" fill="#ef5350"/>
<rect x="156.60" y="706.6" width="3" height="17.6" fill="#ef5350"/>
<rect x="161.01" y="658.1" width="1.4" height="76.1" fill="#26a69a"/>
<rect x="160.21" y="672.5" width="3" height="52.9" fill="#26a69a"/>
<rect x="164.61" y="660.3" width="1.4" height="24.7" fill="#ef5350"/>
<rect x="163.81" y="670.9" width="3" height="11.0" fill="#ef5350"/>
<rect x="168.22" y="635.0" width="1.4" height="35.3" fill="#26a69a"/>
<rect x="167.41" y="637.6" width="3" height="31.5" fill="#26a69a"/>
<rect x="171.82" y="629.5" width="1.4" height="16.5" fill="#26a69a"/>
<rect x="171.02" y="631.0" width="3" height="8.4" fill="#26a69a"/>
<rect x="175.43" y="632.8" width="1.4" height="16.5" fill="#26a69a"/>
<rect x="174.62" y="635.0" width="3" height="2.2" fill="#26a69a"/>
<rect x="179.03" y="615.1" width="1.4" height="23.2" fill="#ef5350"/>
<rect x="178.23" y="630.6" width="3" height="6.6" fill="#ef5350"/>
<rect x="182.64" y="619.1" width="1.4" height="20.7" fill="#26a69a"/>
<rect x="181.84" y="620.6" width="3" height="19.2" fill="#26a69a"/>
<rect x="186.24" y="619.5" width="1.4" height="25.4" fill="#ef5350"/>
<rect x="185.44" y="625.0" width="3" height="9.9" fill="#ef5350"/>
<rect x="189.85" y="612.5" width="1.4" height="11.5" fill="#26a69a"/>
<rect x="189.05" y="617.3" width="3" height="6.6" fill="#26a69a"/>
<rect x="193.45" y="595.2" width="1.4" height="13.3" fill="#26a69a"/>
<rect x="192.65" y="600.2" width="3" height="6.6" fill="#26a69a"/>
<rect x="197.06" y="570.3" width="1.4" height="29.3" fill="#26a69a"/>
<rect x="196.25" y="571.8" width="3" height="27.9" fill="#26a69a"/>
<rect x="200.66" y="566.2" width="1.4" height="34.5" fill="#ef5350"/>
<rect x="199.86" y="570.9" width="3" height="21.0" fill="#ef5350"/>
<rect x="204.27" y="577.3" width="1.4" height="26.5" fill="#26a69a"/>
<rect x="203.47" y="584.2" width="3" height="18.8" fill="#26a69a"/>
<rect x="207.87" y="575.1" width="1.4" height="19.9" fill="#ef5350"/>
<rect x="207.07" y="586.2" width="3" height="7.7" fill="#ef5350"/>
<rect x="211.48" y="573.3" width="1.4" height="21.3" fill="#26a69a"/>
<rect x="210.68" y="577.0" width="3" height="16.0" fill="#26a69a"/>
<rect x="215.08" y="568.1" width="1.4" height="8.5" fill="#26a69a"/>
<rect x="214.28" y="568.1" width="3" height="3.9" fill="#26a69a"/>
<rect x="218.69" y="560.4" width="1.4" height="16.3" fill="#26a69a"/>
<rect x="217.88" y="560.7" width="3" height="6.3" fill="#26a69a"/>
<rect x="222.29" y="552.3" width="1.4" height="10.6" fill="#ef5350"/>
<rect x="221.49" y="560.4" width="3" height="2.5" fill="#ef5350"/>
<rect x="225.90" y="552.3" width="1.4" height="11.4" fill="#26a69a"/>
<rect x="225.09" y="557.9" width="3" height="1.0" fill="#26a69a"/>
<rect x="229.50" y="543.2" width="1.4" height="13.6" fill="#26a69a"/>
<rect x="228.70" y="546.0" width="3" height="10.8" fill="#26a69a"/>
<rect x="233.11" y="538.3" width="1.4" height="8.5" fill="#26a69a"/>
<rect x="232.31" y="542.1" width="3" height="3.9" fill="#26a69a"/>
<rect x="236.71" y="536.0" width="1.4" height="9.6" fill="#ef5350"/>
<rect x="235.91" y="539.9" width="3" height="1.0" fill="#ef5350"/>
<rect x="240.32" y="528.0" width="1.4" height="11.9" fill="#26a69a"/>
<rect x="239.52" y="528.8" width="3" height="10.2" fill="#26a69a"/>
<rect x="243.92" y="520.0" width="1.4" height="26.8" fill="#ef5350"/>
<rect x="243.12" y="529.1" width="3" height="10.0" fill="#ef5350"/>
<rect x="247.53" y="536.0" width="1.4" height="13.6" fill="#ef5350"/>
<rect x="246.72" y="540.1" width="3" height="4.8" fill="#ef5350"/>
<rect x="251.13" y="532.2" width="1.4" height="14.6" fill="#ef5350"/>
<rect x="250.33" y="539.0" width="3" height="6.6" fill="#ef5350"/>
<rect x="254.74" y="545.2" width="1.4" height="19.6" fill="#ef5350"/>
<rect x="253.94" y="553.0" width="3" height="1.5" fill="#ef5350"/>
<rect x="258.34" y="542.1" width="1.4" height="8.8" fill="#26a69a"/>
<rect x="257.54" y="546.9" width="3" height="3.2" fill="#26a69a"/>
<rect x="261.94" y="528.0" width="1.4" height="16.9" fill="#26a69a"/>
<rect x="261.14" y="528.0" width="3" height="16.2" fill="#26a69a"/>
<rect x="265.55" y="521.1" width="1.4" height="14.9" fill="#ef5350"/>
<rect x="264.75" y="526.1" width="3" height="4.8" fill="#ef5350"/>
<rect x="269.16" y="528.3" width="1.4" height="8.3" fill="#ef5350"/>
<rect x="268.36" y="528.3" width="3" height="2.5" fill="#ef5350"/>
<rect x="272.76" y="534.9" width="1.4" height="28.0" fill="#ef5350"/>
<rect x="271.96" y="536.8" width="3" height="21.9" fill="#ef5350"/>
<rect x="276.37" y="521.1" width="1.4" height="35.6" fill="#26a69a"/>
<rect x="275.56" y="523.9" width="3" height="28.8" fill="#26a69a"/>
<rect x="279.97" y="504.1" width="1.4" height="15.7" fill="#ef5350"/>
<rect x="279.17" y="504.1" width="3" height="5.8" fill="#ef5350"/>
<rect x="283.57" y="501.9" width="1.4" height="8.0" fill="#ef5350"/>
<rect x="282.77" y="505.8" width="3" height="1.0" fill="#ef5350"/>
<rect x="287.18" y="493.9" width="1.4" height="12.9" fill="#26a69a"/>
<rect x="286.38" y="493.9" width="3" height="11.3" fill="#26a69a"/>
<rect x="290.78" y="487.0" width="1.4" height="14.9" fill="#26a69a"/>
<rect x="289.98" y="487.0" width="3" height="11.1" fill="#26a69a"/>
<rect x="294.39" y="485.3" width="1.4" height="7.7" fill="#ef5350"/>
<rect x="293.59" y="489.2" width="3" height="1.0" fill="#ef5350"/>
<rect x="298.00" y="479.2" width="1.4" height="11.6" fill="#26a69a"/>
<rect x="297.19" y="481.8" width="3" height="6.6" fill="#26a69a"/>
<rect x="301.60" y="480.9" width="1.4" height="13.1" fill="#26a69a"/>
<rect x="300.80" y="481.8" width="3" height="9.3" fill="#26a69a"/>
<rect x="305.20" y="474.0" width="1.4" height="5.8" fill="#26a69a"/>
<rect x="304.40" y="475.9" width="3" height="3.9" fill="#26a69a"/>
<rect x="308.81" y="462.1" width="1.4" height="21.0" fill="#26a69a"/>
<rect x="308.01" y="462.1" width="3" height="12.2" fill="#26a69a"/>
<rect x="312.41" y="459.9" width="1.4" height="11.9" fill="#ef5350"/>
<rect x="311.61" y="467.9" width="3" height="1.0" fill="#ef5350"/>
<rect x="316.02" y="456.0" width="1.4" height="10.0" fill="#26a69a"/>
<rect x="315.22" y="459.9" width="3" height="5.0" fill="#26a69a"/>
<rect x="319.62" y="456.9" width="1.4" height="24.2" fill="#ef5350"/>
<rect x="318.82" y="457.7" width="3" height="22.7" fill="#ef5350"/>
<rect x="323.23" y="456.0" width="1.4" height="20.2" fill="#26a69a"/>
<rect x="322.43" y="456.5" width="3" height="19.0" fill="#26a69a"/>
<rect x="326.83" y="446.8" width="1.4" height="8.1" fill="#26a69a"/>
<rect x="326.03" y="446.8" width="3" height="8.1" fill="#26a69a"/>
<rect x="330.44" y="444.0" width="1.4" height="11.9" fill="#ef5350"/>
<rect x="329.64" y="446.0" width="3" height="6.1" fill="#ef5350"/>
<rect x="334.04" y="452.1" width="1.4" height="19.9" fill="#ef5350"/>
<rect x="333.24" y="453.8" width="3" height="16.0" fill="#ef5350"/>
<rect x="337.65" y="456.0" width="1.4" height="24.0" fill="#ef5350"/>
<rect x="336.85" y="463.2" width="3" height="4.4" fill="#ef5350"/>
<rect x="341.25" y="451.0" width="1.4" height="19.9" fill="#26a69a"/>
<rect x="340.45" y="454.9" width="3" height="13.3" fill="#26a69a"/>
<rect x="344.86" y="448.0" width="1.4" height="14.0" fill="#ef5350"/>
<rect x="344.06" y="453.0" width="3" height="4.9" fill="#ef5350"/>
<rect x="348.46" y="452.1" width="1.4" height="15.8" fill="#26a69a"/>
<rect x="347.66" y="452.1" width="3" height="4.8" fill="#26a69a"/>
<rect x="352.07" y="446.0" width="1.4" height="12.9" fill="#26a69a"/>
<rect x="351.27" y="446.0" width="3" height="11.8" fill="#26a69a"/>
<rect x="355.68" y="435.2" width="1.4" height="8.6" fill="#26a69a"/>
<rect x="354.88" y="435.2" width="3" height="7.7" fill="#26a69a"/>
<rect x="359.28" y="425.3" width="1.4" height="13.3" fill="#26a69a"/>
<rect x="358.48" y="425.8" width="3" height="12.2" fill="#26a69a"/>
<rect x="362.88" y="424.2" width="1.4" height="12.2" fill="#26a69a"/>
<rect x="362.08" y="426.2" width="3" height="1.0" fill="#26a69a"/>
<rect x="366.49" y="421.9" width="1.4" height="10.0" fill="#ef5350"/>
<rect x="365.69" y="426.2" width="3" height="5.8" fill="#ef5350"/>
<rect x="370.09" y="417.3" width="1.4" height="18.5" fill="#26a69a"/>
<rect x="369.29" y="418.6" width="3" height="7.7" fill="#26a69a"/>
<rect x="373.70" y="417.3" width="1.4" height="26.2" fill="#ef5350"/>
<rect x="372.90" y="418.1" width="3" height="11.6" fill="#ef5350"/>
<rect x="377.31" y="425.0" width="1.4" height="14.8" fill="#26a69a"/>
<rect x="376.50" y="426.7" width="3" height="1.0" fill="#26a69a"/>
<rect x="380.91" y="417.3" width="1.4" height="8.5" fill="#26a69a"/>
<rect x="380.11" y="419.2" width="3" height="6.1" fill="#26a69a"/>
<rect x="384.51" y="413.1" width="1.4" height="9.7" fill="#26a69a"/>
<rect x="383.71" y="413.1" width="3" height="2.8" fill="#26a69a"/>
<rect x="388.12" y="410.0" width="1.4" height="4.8" fill="#26a69a"/>
<rect x="387.32" y="410.9" width="3" height="3.9" fill="#26a69a"/>
<rect x="391.72" y="407.3" width="1.4" height="17.4" fill="#ef5350"/>
<rect x="390.92" y="410.3" width="3" height="14.4" fill="#ef5350"/>
<rect x="395.33" y="411.1" width="1.4" height="13.6" fill="#26a69a"/>
<rect x="394.53" y="412.0" width="3" height="12.7" fill="#26a69a"/>
<rect x="398.94" y="406.2" width="1.4" height="6.6" fill="#26a69a"/>
<rect x="398.13" y="406.2" width="3" height="3.8" fill="#26a69a"/>
<rect x="402.54" y="405.1" width="1.4" height="10.7" fill="#26a69a"/>
<rect x="401.74" y="405.1" width="3" height="1.0" fill="#26a69a"/>
<rect x="406.14" y="403.1" width="1.4" height="10.7" fill="#ef5350"/>
<rect x="405.34" y="404.8" width="3" height="9.1" fill="#ef5350"/>
<rect x="409.75" y="403.1" width="1.4" height="19.7" fill="#26a69a"/>
<rect x="408.95" y="404.0" width="3" height="13.5" fill="#26a69a"/>
<rect x="413.35" y="400.0" width="1.4" height="9.7" fill="#26a69a"/>
<rect x="412.55" y="405.1" width="3" height="1.0" fill="#26a69a"/>
<rect x="416.96" y="397.1" width="1.4" height="5.9" fill="#ef5350"/>
<rect x="416.16" y="398.9" width="3" height="3.1" fill="#ef5350"/>
<rect x="420.56" y="394.8" width="1.4" height="5.9" fill="#26a69a"/>
<rect x="419.76" y="395.4" width="3" height="4.4" fill="#26a69a"/>
<rect x="424.17" y="396.0" width="1.4" height="13.8" fill="#ef5350"/>
<rect x="423.37" y="396.0" width="3" height="10.5" fill="#ef5350"/>
<rect x="427.77" y="391.5" width="1.4" height="10.3" fill="#26a69a"/>
<rect x="426.97" y="392.1" width="3" height="9.7" fill="#26a69a"/>
<rect x="431.38" y="385.2" width="1.4" height="7.4" fill="#26a69a"/>
<rect x="430.58" y="386.0" width="3" height="5.5" fill="#26a69a"/>
<rect x="434.99" y="386.0" width="1.4" height="10.0" fill="#ef5350"/>
<rect x="434.19" y="386.9" width="3" height="9.1" fill="#ef5350"/>
<rect x="438.59" y="389.9" width="1.4" height="10.8" fill="#ef5350"/>
<rect x="437.79" y="391.0" width="3" height="9.7" fill="#ef5350"/>
<rect x="442.19" y="396.0" width="1.4" height="18.8" fill="#26a69a"/>
<rect x="441.39" y="398.9" width="3" height="11.9" fill="#26a69a"/>
<rect x="445.80" y="400.0" width="1.4" height="19.7" fill="#ef5350"/>
<rect x="445.00" y="401.8" width="3" height="10.0" fill="#ef5350"/>
<rect x="449.40" y="408.1" width="1.4" height="15.5" fill="#26a69a"/>
<rect x="448.60" y="413.3" width="3" height="1.1" fill="#26a69a"/>
<rect x="453.01" y="398.9" width="1.4" height="17.7" fill="#26a69a"/>
<rect x="452.21" y="399.8" width="3" height="14.9" fill="#26a69a"/>
<rect x="456.62" y="392.1" width="1.4" height="10.5" fill="#26a69a"/>
<rect x="455.81" y="395.2" width="3" height="7.4" fill="#26a69a"/>
<rect x="460.22" y="389.0" width="1.4" height="6.6" fill="#26a69a"/>
<rect x="459.42" y="389.9" width="3" height="5.8" fill="#26a69a"/>
<rect x="463.82" y="376.0" width="1.4" height="13.6" fill="#26a69a"/>
<rect x="463.02" y="377.7" width="3" height="11.9" fill="#26a69a"/>
<rect x="467.43" y="374.9" width="1.4" height="10.7" fill="#ef5350"/>
<rect x="466.63" y="377.1" width="3" height="5.0" fill="#ef5350"/>
<rect x="471.03" y="377.1" width="1.4" height="7.4" fill="#ef5350"/>
<rect x="470.23" y="379.0" width="3" height="4.0" fill="#ef5350"/>
<rect x="474.64" y="380.1" width="1.4" height="21.3" fill="#ef5350"/>
<rect x="473.84" y="382.1" width="3" height="18.8" fill="#ef5350"/>
<rect x="478.25" y="393.0" width="1.4" height="15.7" fill="#ef5350"/>
<rect x="477.44" y="397.6" width="3" height="6.1" fill="#ef5350"/>
<rect x="481.85" y="385.1" width="1.4" height="16.7" fill="#26a69a"/>
<rect x="481.05" y="387.1" width="3" height="11.6" fill="#26a69a"/>
<rect x="485.45" y="385.1" width="1.4" height="13.6" fill="#ef5350"/>
<rect x="484.65" y="387.1" width="3" height="9.1" fill="#ef5350"/>
<rect x="489.06" y="384.0" width="1.4" height="21.9" fill="#26a69a"/>
<rect x="488.26" y="385.1" width="3" height="17.5" fill="#26a69a"/>
<rect x="492.66" y="376.1" width="1.4" height="7.7" fill="#26a69a"/>
<rect x="491.86" y="381.0" width="3" height="2.8" fill="#26a69a"/>
<rect x="496.27" y="376.1" width="1.4" height="18.8" fill="#ef5350"/>
<rect x="495.47" y="377.7" width="3" height="15.5" fill="#ef5350"/>
<rect x="499.88" y="383.3" width="1.4" height="19.4" fill="#26a69a"/>
<rect x="499.07" y="393.2" width="3" height="3.9" fill="#26a69a"/>
<rect x="503.48" y="398.0" width="1.4" height="21.8" fill="#ef5350"/>
<rect x="502.68" y="398.7" width="3" height="21.0" fill="#ef5350"/>
<rect x="507.08" y="417.2" width="1.4" height="21.7" fill="#26a69a"/>
<rect x="506.28" y="424.2" width="3" height="1.4" fill="#26a69a"/>
<rect x="510.69" y="403.9" width="1.4" height="20.8" fill="#26a69a"/>
<rect x="509.89" y="418.1" width="3" height="6.6" fill="#26a69a"/>
<rect x="514.29" y="405.0" width="1.4" height="20.8" fill="#ef5350"/>
<rect x="513.50" y="416.1" width="3" height="9.2" fill="#ef5350"/>
<rect x="517.90" y="417.0" width="1.4" height="15.7" fill="#ef5350"/>
<rect x="517.10" y="425.0" width="3" height="5.9" fill="#ef5350"/>
<rect x="521.50" y="432.3" width="1.4" height="30.6" fill="#26a69a"/>
<rect x="520.71" y="432.3" width="3" height="2.7" fill="#26a69a"/>
<rect x="525.11" y="431.2" width="1.4" height="19.6" fill="#ef5350"/>
<rect x="524.31" y="440.2" width="3" height="8.8" fill="#ef5350"/>
<rect x="528.71" y="450.8" width="1.4" height="20.1" fill="#ef5350"/>
<rect x="527.91" y="451.6" width="3" height="15.3" fill="#ef5350"/>
<rect x="532.32" y="433.0" width="1.4" height="38.8" fill="#26a69a"/>
<rect x="531.52" y="433.0" width="3" height="33.8" fill="#26a69a"/>
<rect x="535.92" y="433.0" width="1.4" height="8.8" fill="#26a69a"/>
<rect x="535.12" y="434.9" width="3" height="4.2" fill="#26a69a"/>
<rect x="539.53" y="422.0" width="1.4" height="15.8" fill="#26a69a"/>
<rect x="538.73" y="428.9" width="3" height="6.0" fill="#26a69a"/>
<rect x="543.13" y="425.3" width="1.4" height="22.5" fill="#ef5350"/>
<rect x="542.33" y="427.8" width="3" height="16.8" fill="#ef5350"/>
<rect x="546.74" y="446.1" width="1.4" height="10.7" fill="#ef5350"/>
<rect x="545.94" y="449.4" width="3" height="7.4" fill="#ef5350"/>
<rect x="550.34" y="446.1" width="1.4" height="27.7" fill="#ef5350"/>
<rect x="549.54" y="456.0" width="3" height="17.7" fill="#ef5350"/>
<rect x="553.95" y="470.1" width="1.4" height="17.7" fill="#ef5350"/>
<rect x="553.15" y="473.7" width="3" height="14.0" fill="#ef5350"/>
<rect x="557.55" y="470.1" width="1.4" height="30.8" fill="#ef5350"/>
<rect x="556.75" y="489.2" width="3" height="7.7" fill="#ef5350"/>
<rect x="561.16" y="500.8" width="1.4" height="19.0" fill="#26a69a"/>
<rect x="560.36" y="501.9" width="3" height="3.9" fill="#26a69a"/>
<rect x="564.76" y="494.2" width="1.4" height="21.6" fill="#ef5350"/>
<rect x="563.96" y="503.1" width="3" height="3.9" fill="#ef5350"/>
<rect x="568.37" y="478.2" width="1.4" height="29.5" fill="#26a69a"/>
<rect x="567.57" y="478.2" width="3" height="26.5" fill="#26a69a"/>
<rect x="571.97" y="478.2" width="1.4" height="12.7" fill="#ef5350"/>
<rect x="571.17" y="480.0" width="3" height="7.0" fill="#ef5350"/>
<rect x="575.58" y="480.0" width="1.4" height="35.7" fill="#ef5350"/>
<rect x="574.78" y="482.0" width="3" height="33.7" fill="#ef5350"/>
<rect x="579.18" y="526.9" width="1.4" height="21.8" fill="#ef5350"/>
<rect x="578.38" y="526.9" width="3" height="19.0" fill="#ef5350"/>
<rect x="582.79" y="519.0" width="1.4" height="20.8" fill="#26a69a"/>
<rect x="581.99" y="519.0" width="3" height="20.8" fill="#26a69a"/>
<rect x="586.39" y="517.7" width="1.4" height="19.4" fill="#ef5350"/>
<rect x="585.60" y="519.0" width="3" height="7.9" fill="#ef5350"/>
<rect x="590.00" y="521.0" width="1.4" height="16.0" fill="#26a69a"/>
<rect x="589.20" y="524.1" width="3" height="10.2" fill="#26a69a"/>
<rect x="593.60" y="526.0" width="1.4" height="18.0" fill="#ef5350"/>
<rect x="592.80" y="526.0" width="3" height="3.0" fill="#ef5350"/>
<rect x="597.21" y="504.2" width="1.4" height="26.8" fill="#26a69a"/>
<rect x="596.41" y="511.0" width="3" height="13.1" fill="#26a69a"/>
<rect x="600.81" y="488.1" width="1.4" height="27.7" fill="#26a69a"/>
<rect x="600.01" y="489.2" width="3" height="20.7" fill="#26a69a"/>
<rect x="604.42" y="486.2" width="1.4" height="9.6" fill="#ef5350"/>
<rect x="603.62" y="491.1" width="3" height="1.4" fill="#ef5350"/>
<rect x="608.02" y="476.0" width="1.4" height="18.8" fill="#26a69a"/>
<rect x="607.23" y="476.0" width="3" height="14.0" fill="#26a69a"/>
<rect x="611.63" y="473.0" width="1.4" height="16.8" fill="#ef5350"/>
<rect x="610.83" y="477.1" width="3" height="12.7" fill="#ef5350"/>
<rect x="615.23" y="490.0" width="1.4" height="17.7" fill="#ef5350"/>
<rect x="614.43" y="497.0" width="3" height="10.7" fill="#ef5350"/>
<rect x="618.84" y="508.0" width="1.4" height="23.0" fill="#ef5350"/>
<rect x="618.04" y="508.8" width="3" height="18.0" fill="#ef5350"/>
<rect x="622.44" y="511.9" width="1.4" height="21.0" fill="#26a69a"/>
<rect x="621.64" y="511.9" width="3" height="14.9" fill="#26a69a"/>
<rect x="626.05" y="505.0" width="1.4" height="34.0" fill="#ef5350"/>
<rect x="625.25" y="509.1" width="3" height="26.9" fill="#ef5350"/>
<rect x="629.65" y="533.0" width="1.4" height="36.9" fill="#ef5350"/>
<rect x="628.86" y="540.9" width="3" height="24.1" fill="#ef5350"/>
<rect x="633.26" y="561.9" width="1.4" height="17.9" fill="#ef5350"/>
<rect x="632.46" y="566.9" width="3" height="11.1" fill="#ef5350"/>
<rect x="636.86" y="548.9" width="1.4" height="29.1" fill="#26a69a"/>
<rect x="636.06" y="571.9" width="3" height="1.3" fill="#26a69a"/>
<rect x="640.47" y="568.0" width="1.4" height="27.1" fill="#ef5350"/>
<rect x="639.67" y="571.0" width="3" height="13.9" fill="#ef5350"/>
<rect x="644.07" y="561.9" width="1.4" height="19.0" fill="#26a69a"/>
<rect x="643.27" y="565.0" width="3" height="10.0" fill="#26a69a"/>
<rect x="647.68" y="547.8" width="1.4" height="25.2" fill="#26a69a"/>
<rect x="646.88" y="548.7" width="3" height="19.4" fill="#26a69a"/>
<rect x="651.28" y="542.9" width="1.4" height="27.0" fill="#ef5350"/>
<rect x="650.49" y="552.0" width="3" height="2.8" fill="#ef5350"/>
<rect x="654.89" y="517.1" width="1.4" height="39.8" fill="#26a69a"/>
<rect x="654.09" y="519.0" width="3" height="33.8" fill="#26a69a"/>
<rect x="658.49" y="511.9" width="1.4" height="17.0" fill="#26a69a"/>
<rect x="657.69" y="519.7" width="3" height="1.3" fill="#26a69a"/>
<rect x="662.10" y="509.1" width="1.4" height="15.8" fill="#26a69a"/>
<rect x="661.30" y="509.1" width="3" height="15.0" fill="#26a69a"/>
<rect x="665.70" y="495.9" width="1.4" height="22.1" fill="#26a69a"/>
<rect x="664.90" y="497.0" width="3" height="14.9" fill="#26a69a"/>
<rect x="669.31" y="500.0" width="1.4" height="13.9" fill="#ef5350"/>
<rect x="668.51" y="500.0" width="3" height="11.9" fill="#ef5350"/>
<rect x="672.91" y="489.3" width="1.4" height="32.6" fill="#ef5350"/>
<rect x="672.12" y="511.9" width="3" height="8.2" fill="#ef5350"/>
<rect x="676.52" y="516.0" width="1.4" height="13.8" fill="#ef5350"/>
<rect x="675.72" y="519.7" width="3" height="2.4" fill="#ef5350"/>
<rect x="680.12" y="521.0" width="1.4" height="10.0" fill="#ef5350"/>
<rect x="679.32" y="521.0" width="3" height="10.0" fill="#ef5350"/>
<rect x="683.73" y="506.1" width="1.4" height="19.0" fill="#26a69a"/>
<rect x="682.93" y="506.1" width="3" height="14.6" fill="#26a69a"/>
<rect x="687.33" y="488.0" width="1.4" height="21.0" fill="#26a69a"/>
<rect x="686.53" y="488.0" width="3" height="17.7" fill="#26a69a"/>
<rect x="690.94" y="483.1" width="1.4" height="13.8" fill="#26a69a"/>
<rect x="690.14" y="488.0" width="3" height="1.1" fill="#26a69a"/>
<rect x="694.54" y="477.0" width="1.4" height="12.9" fill="#26a69a"/>
<rect x="693.75" y="478.8" width="3" height="11.1" fill="#26a69a"/>
<rect x="698.15" y="465.1" width="1.4" height="21.8" fill="#26a69a"/>
<rect x="697.35" y="478.1" width="3" height="6.1" fill="#26a69a"/>
<rect x="701.75" y="474.0" width="1.4" height="14.8" fill="#ef5350"/>
<rect x="700.95" y="481.9" width="3" height="6.9" fill="#ef5350"/>
<rect x="705.36" y="478.1" width="1.4" height="14.9" fill="#ef5350"/>
<rect x="704.56" y="486.2" width="3" height="2.7" fill="#ef5350"/>
<rect x="708.96" y="493.0" width="1.4" height="14.9" fill="#ef5350"/>
<rect x="708.16" y="493.6" width="3" height="13.8" fill="#ef5350"/>
<rect x="712.57" y="491.9" width="1.4" height="17.1" fill="#26a69a"/>
<rect x="711.77" y="493.9" width="3" height="6.0" fill="#26a69a"/>
<rect x="716.17" y="489.9" width="1.4" height="23.0" fill="#ef5350"/>
<rect x="715.38" y="490.8" width="3" height="21.2" fill="#ef5350"/>
<rect x="719.78" y="502.1" width="1.4" height="15.8" fill="#26a69a"/>
<rect x="718.98" y="509.0" width="3" height="7.0" fill="#26a69a"/>
<rect x="723.38" y="489.9" width="1.4" height="16.9" fill="#26a69a"/>
<rect x="722.58" y="498.0" width="3" height="8.8" fill="#26a69a"/>
<rect x="726.99" y="480.8" width="1.4" height="20.1" fill="#26a69a"/>
<rect x="726.19" y="480.8" width="3" height="17.1" fill="#26a69a"/>
<rect x="730.59" y="476.4" width="1.4" height="6.4" fill="#26a69a"/>
<rect x="729.79" y="477.0" width="3" height="5.9" fill="#26a69a"/>
<rect x="734.20" y="468.1" width="1.4" height="15.8" fill="#26a69a"/>
<rect x="733.40" y="477.0" width="3" height="6.1" fill="#26a69a"/>
<rect x="737.80" y="473.1" width="1.4" height="6.6" fill="#26a69a"/>
<rect x="737.00" y="476.2" width="3" height="1.0" fill="#26a69a"/>
<rect x="741.41" y="471.1" width="1.4" height="12.8" fill="#26a69a"/>
<rect x="740.61" y="471.1" width="3" height="6.4" fill="#26a69a"/>
<rect x="745.01" y="471.1" width="1.4" height="10.8" fill="#26a69a"/>
<rect x="744.21" y="472.9" width="3" height="1.0" fill="#26a69a"/>
<rect x="748.62" y="472.0" width="1.4" height="7.7" fill="#ef5350"/>
<rect x="747.82" y="472.9" width="3" height="6.3" fill="#ef5350"/>
<rect x="752.22" y="473.1" width="1.4" height="8.8" fill="#26a69a"/>
<rect x="751.42" y="475.9" width="3" height="3.0" fill="#26a69a"/>
<rect x="755.83" y="473.1" width="1.4" height="14.6" fill="#ef5350"/>
<rect x="755.03" y="473.1" width="3" height="6.1" fill="#ef5350"/>
<rect x="759.43" y="468.1" width="1.4" height="16.6" fill="#26a69a"/>
<rect x="758.63" y="469.2" width="3" height="8.5" fill="#26a69a"/>
<rect x="763.04" y="464.0" width="1.4" height="6.9" fill="#26a69a"/>
<rect x="762.24" y="467.0" width="3" height="3.0" fill="#26a69a"/>
<rect x="766.64" y="448.2" width="1.4" height="18.8" fill="#26a69a"/>
<rect x="765.85" y="453.2" width="3" height="13.8" fill="#26a69a"/>
<rect x="770.25" y="454.1" width="1.4" height="10.7" fill="#ef5350"/>
<rect x="769.45" y="454.1" width="3" height="10.7" fill="#ef5350"/>
<rect x="773.85" y="452.1" width="1.4" height="12.7" fill="#26a69a"/>
<rect x="773.05" y="452.6" width="3" height="12.2" fill="#26a69a"/>
<rect x="777.46" y="451.2" width="1.4" height="17.7" fill="#ef5350"/>
<rect x="776.66" y="452.6" width="3" height="9.2" fill="#ef5350"/>
<rect x="781.06" y="438.3" width="1.4" height="25.8" fill="#26a69a"/>
<rect x="780.26" y="442.7" width="3" height="21.3" fill="#26a69a"/>
<rect x="784.67" y="434.9" width="1.4" height="8.8" fill="#26a69a"/>
<rect x="783.87" y="441.0" width="3" height="2.8" fill="#26a69a"/>
<rect x="788.27" y="431.9" width="1.4" height="11.1" fill="#26a69a"/>
<rect x="787.48" y="433.8" width="3" height="7.2" fill="#26a69a"/>
<rect x="791.88" y="432.7" width="1.4" height="21.0" fill="#ef5350"/>
<rect x="791.08" y="433.8" width="3" height="18.0" fill="#ef5350"/>
<rect x="795.48" y="443.0" width="1.4" height="12.9" fill="#ef5350"/>
<rect x="794.68" y="446.9" width="3" height="9.1" fill="#ef5350"/>
<rect x="799.09" y="454.1" width="1.4" height="19.9" fill="#ef5350"/>
<rect x="798.29" y="457.6" width="3" height="13.3" fill="#ef5350"/>
<rect x="802.69" y="460.0" width="1.4" height="12.8" fill="#26a69a"/>
<rect x="801.89" y="464.8" width="3" height="6.1" fill="#26a69a"/>
<rect x="806.30" y="445.2" width="1.4" height="18.5" fill="#26a69a"/>
<rect x="805.50" y="451.0" width="3" height="12.7" fill="#26a69a"/>
<rect x="809.90" y="451.0" width="1.4" height="13.1" fill="#ef5350"/>
<rect x="809.11" y="451.0" width="3" height="10.8" fill="#ef5350"/>
<rect x="813.51" y="453.0" width="1.4" height="8.0" fill="#ef5350"/>
<rect x="812.71" y="458.2" width="3" height="1.0" fill="#ef5350"/>
<rect x="817.11" y="457.1" width="1.4" height="18.8" fill="#ef5350"/>
<rect x="816.31" y="458.7" width="3" height="16.4" fill="#ef5350"/>
<rect x="820.72" y="475.1" width="1.4" height="13.7" fill="#ef5350"/>
<rect x="819.92" y="477.0" width="3" height="6.1" fill="#ef5350"/>
<rect x="824.32" y="483.1" width="1.4" height="14.9" fill="#ef5350"/>
<rect x="823.52" y="483.1" width="3" height="3.9" fill="#ef5350"/>
<rect x="827.93" y="473.1" width="1.4" height="16.8" fill="#26a69a"/>
<rect x="827.13" y="481.9" width="3" height="8.0" fill="#26a69a"/>
<rect x="831.53" y="477.0" width="1.4" height="22.9" fill="#ef5350"/>
<rect x="830.74" y="480.8" width="3" height="19.0" fill="#ef5350"/>
<rect x="835.14" y="495.0" width="1.4" height="14.8" fill="#ef5350"/>
<rect x="834.34" y="501.9" width="3" height="5.0" fill="#ef5350"/>
<rect x="838.74" y="471.1" width="1.4" height="35.7" fill="#26a69a"/>
<rect x="837.94" y="472.9" width="3" height="33.4" fill="#26a69a"/>
<rect x="842.35" y="469.2" width="1.4" height="8.8" fill="#26a69a"/>
<rect x="841.55" y="471.8" width="3" height="1.1" fill="#26a69a"/>
<rect x="845.95" y="451.0" width="1.4" height="26.0" fill="#26a69a"/>
<rect x="845.15" y="451.0" width="3" height="26.0" fill="#26a69a"/>
<rect x="849.56" y="446.0" width="1.4" height="7.7" fill="#26a69a"/>
<rect x="848.76" y="446.9" width="3" height="6.9" fill="#26a69a"/>
<rect x="853.16" y="434.9" width="1.4" height="14.9" fill="#26a69a"/>
<rect x="852.37" y="434.9" width="3" height="14.9" fill="#26a69a"/>
<rect x="856.77" y="434.1" width="1.4" height="8.8" fill="#26a69a"/>
<rect x="855.97" y="436.1" width="3" height="4.9" fill="#26a69a"/>
<rect x="860.37" y="410.8" width="1.4" height="26.0" fill="#26a69a"/>
<rect x="859.57" y="415.0" width="3" height="21.8" fill="#26a69a"/>
<rect x="863.98" y="406.2" width="1.4" height="9.6" fill="#26a69a"/>
<rect x="863.18" y="408.1" width="3" height="7.7" fill="#26a69a"/>
<rect x="867.58" y="399.2" width="1.4" height="10.7" fill="#26a69a"/>
<rect x="866.78" y="403.1" width="3" height="6.9" fill="#26a69a"/>
<rect x="871.19" y="408.1" width="1.4" height="10.0" fill="#ef5350"/>
<rect x="870.39" y="410.0" width="3" height="7.0" fill="#ef5350"/>
<rect x="874.79" y="403.1" width="1.4" height="13.8" fill="#26a69a"/>
<rect x="874.00" y="406.2" width="3" height="10.7" fill="#26a69a"/>
<rect x="878.40" y="410.0" width="1.4" height="13.1" fill="#26a69a"/>
<rect x="877.60" y="410.0" width="3" height="2.9" fill="#26a69a"/>
<rect x="882.00" y="400.9" width="1.4" height="10.0" fill="#26a69a"/>
<rect x="881.20" y="401.8" width="3" height="8.5" fill="#26a69a"/>
<rect x="885.61" y="395.1" width="1.4" height="8.8" fill="#26a69a"/>
<rect x="884.81" y="395.9" width="3" height="6.1" fill="#26a69a"/>
<rect x="889.21" y="392.0" width="1.4" height="11.9" fill="#26a69a"/>
<rect x="888.41" y="393.1" width="3" height="6.9" fill="#26a69a"/>
<rect x="892.82" y="388.9" width="1.4" height="16.9" fill="#ef5350"/>
<rect x="892.02" y="390.9" width="3" height="1.0" fill="#ef5350"/>
<rect x="896.42" y="381.0" width="1.4" height="16.0" fill="#26a69a"/>
<rect x="895.62" y="381.9" width="3" height="10.0" fill="#26a69a"/>
<rect x="900.03" y="375.2" width="1.4" height="11.8" fill="#26a69a"/>
<rect x="899.23" y="376.0" width="3" height="6.1" fill="#26a69a"/>
<rect x="903.63" y="363.9" width="1.4" height="17.9" fill="#26a69a"/>
<rect x="902.83" y="369.9" width="3" height="8.8" fill="#26a69a"/>
<rect x="907.24" y="366.9" width="1.4" height="10.0" fill="#ef5350"/>
<rect x="906.44" y="371.0" width="3" height="5.9" fill="#ef5350"/>
<rect x="910.84" y="360.3" width="1.4" height="14.7" fill="#26a69a"/>
<rect x="910.04" y="362.8" width="3" height="11.1" fill="#26a69a"/>
<rect x="914.45" y="359.2" width="1.4" height="6.6" fill="#26a69a"/>
<rect x="913.65" y="360.0" width="3" height="5.1" fill="#26a69a"/>
<rect x="918.05" y="359.2" width="1.4" height="12.7" fill="#ef5350"/>
<rect x="917.25" y="361.1" width="3" height="7.0" fill="#ef5350"/>
<rect x="921.66" y="363.1" width="1.4" height="18.8" fill="#ef5350"/>
<rect x="920.86" y="365.8" width="3" height="16.0" fill="#ef5350"/>
<rect x="925.26" y="376.1" width="1.4" height="21.8" fill="#ef5350"/>
<rect x="924.46" y="376.1" width="3" height="21.8" fill="#ef5350"/>
<rect x="928.87" y="381.0" width="1.4" height="15.0" fill="#26a69a"/>
<rect x="928.07" y="381.6" width="3" height="14.4" fill="#26a69a"/>
<rect x="932.47" y="371.0" width="1.4" height="19.9" fill="#26a69a"/>
<rect x="931.67" y="371.9" width="3" height="8.0" fill="#26a69a"/>
<rect x="936.08" y="361.1" width="1.4" height="10.0" fill="#26a69a"/>
<rect x="935.28" y="362.8" width="3" height="8.2" fill="#26a69a"/>
<rect x="939.68" y="348.1" width="1.4" height="14.9" fill="#26a69a"/>
<rect x="938.88" y="351.1" width="3" height="8.8" fill="#26a69a"/>
<rect x="943.29" y="349.2" width="1.4" height="10.7" fill="#ef5350"/>
<rect x="942.49" y="352.0" width="3" height="3.9" fill="#ef5350"/>
<rect x="946.89" y="352.0" width="1.4" height="13.1" fill="#ef5350"/>
<rect x="946.10" y="353.1" width="3" height="4.6" fill="#ef5350"/>
<rect x="950.50" y="346.2" width="1.4" height="11.5" fill="#26a69a"/>
<rect x="949.70" y="352.0" width="3" height="3.1" fill="#26a69a"/>
<rect x="954.10" y="338.9" width="1.4" height="17.7" fill="#26a69a"/>
<rect x="953.30" y="346.2" width="3" height="9.6" fill="#26a69a"/>
<rect x="957.71" y="338.9" width="1.4" height="10.0" fill="#26a69a"/>
<rect x="956.91" y="343.1" width="3" height="4.6" fill="#26a69a"/>
<rect x="961.31" y="338.2" width="1.4" height="7.7" fill="#ef5350"/>
<rect x="960.51" y="342.0" width="3" height="3.9" fill="#ef5350"/>
<rect x="964.92" y="330.1" width="1.4" height="18.0" fill="#26a69a"/>
<rect x="964.12" y="330.1" width="3" height="13.9" fill="#26a69a"/>
<rect x="968.52" y="314.9" width="1.4" height="17.1" fill="#26a69a"/>
<rect x="967.73" y="319.0" width="3" height="10.8" fill="#26a69a"/>
<rect x="972.13" y="314.0" width="1.4" height="18.9" fill="#ef5350"/>
<rect x="971.33" y="316.8" width="3" height="16.2" fill="#ef5350"/>
<rect x="975.73" y="324.9" width="1.4" height="18.0" fill="#ef5350"/>
<rect x="974.93" y="327.9" width="3" height="7.0" fill="#ef5350"/>
<rect x="979.34" y="321.0" width="1.4" height="24.9" fill="#ef5350"/>
<rect x="978.54" y="331.9" width="3" height="10.2" fill="#ef5350"/>
<rect x="982.94" y="340.0" width="1.4" height="28.8" fill="#26a69a"/>
<rect x="982.14" y="342.0" width="3" height="26.8" fill="#26a69a"/>
<rect x="986.55" y="317.1" width="1.4" height="25.8" fill="#26a69a"/>
<rect x="985.75" y="317.1" width="3" height="24.9" fill="#26a69a"/>
<rect x="990.15" y="302.0" width="1.4" height="13.8" fill="#26a69a"/>
<rect x="989.36" y="302.0" width="3" height="13.8" fill="#26a69a"/>
<rect x="993.76" y="300.9" width="1.4" height="10.0" fill="#ef5350"/>
<rect x="992.96" y="302.0" width="3" height="2.8" fill="#ef5350"/>
<rect x="997.36" y="305.9" width="1.4" height="20.5" fill="#ef5350"/>
<rect x="996.56" y="305.9" width="3" height="19.9" fill="#ef5350"/>
<rect x="1000.97" y="301.1" width="1.4" height="22.8" fill="#26a69a"/>
<rect x="1000.17" y="302.0" width="3" height="19.9" fill="#26a69a"/>
<rect x="1004.57" y="290.0" width="1.4" height="12.8" fill="#26a69a"/>
<rect x="1003.77" y="294.0" width="3" height="7.1" fill="#26a69a"/>
<rect x="1008.18" y="281.0" width="1.4" height="12.7" fill="#26a69a"/>
<rect x="1007.38" y="284.8" width="3" height="8.8" fill="#26a69a"/>
<rect x="1011.78" y="283.7" width="1.4" height="10.3" fill="#ef5350"/>
<rect x="1010.99" y="284.8" width="3" height="6.1" fill="#ef5350"/>
<rect x="1015.39" y="288.2" width="1.4" height="8.8" fill="#26a69a"/>
<rect x="1014.59" y="288.7" width="3" height="4.2" fill="#26a69a"/>
<rect x="1018.99" y="284.1" width="1.4" height="6.6" fill="#26a69a"/>
<rect x="1018.19" y="284.8" width="3" height="5.0" fill="#26a69a"/>
<rect x="1022.60" y="287.9" width="1.4" height="14.9" fill="#ef5350"/>
<rect x="1021.80" y="287.9" width="3" height="11.8" fill="#ef5350"/>
<rect x="1026.20" y="294.0" width="1.4" height="15.9" fill="#ef5350"/>
<rect x="1025.40" y="297.0" width="3" height="11.8" fill="#ef5350"/>
<rect x="1029.81" y="283.0" width="1.4" height="24.0" fill="#26a69a"/>
<rect x="1029.01" y="286.0" width="3" height="18.8" fill="#26a69a"/>
<rect x="1033.41" y="285.2" width="1.4" height="19.9" fill="#ef5350"/>
<rect x="1032.62" y="285.2" width="3" height="18.8" fill="#ef5350"/>
<rect x="1037.02" y="293.1" width="1.4" height="11.6" fill="#26a69a"/>
<rect x="1036.22" y="293.1" width="3" height="11.6" fill="#26a69a"/>
<rect x="1040.62" y="279.9" width="1.4" height="11.1" fill="#26a69a"/>
<rect x="1039.83" y="282.1" width="3" height="7.7" fill="#26a69a"/>
<rect x="1044.23" y="272.1" width="1.4" height="10.5" fill="#26a69a"/>
<rect x="1043.43" y="272.7" width="3" height="10.0" fill="#26a69a"/>
<rect x="1047.84" y="271.0" width="1.4" height="13.8" fill="#ef5350"/>
<rect x="1047.04" y="272.1" width="3" height="12.7" fill="#ef5350"/>
<rect x="1051.44" y="281.0" width="1.4" height="29.0" fill="#ef5350"/>
<rect x="1050.64" y="283.0" width="3" height="19.0" fill="#ef5350"/>
<rect x="1055.05" y="292.0" width="1.4" height="13.1" fill="#26a69a"/>
<rect x="1054.25" y="298.1" width="3" height="5.9" fill="#26a69a"/>
<rect x="1058.65" y="298.9" width="1.4" height="10.0" fill="#26a69a"/>
<rect x="1057.85" y="300.9" width="3" height="3.1" fill="#26a69a"/>
<rect x="1062.26" y="292.0" width="1.4" height="24.9" fill="#ef5350"/>
<rect x="1061.46" y="297.0" width="3" height="19.9" fill="#ef5350"/>
<rect x="1065.86" y="292.0" width="1.4" height="28.8" fill="#26a69a"/>
<rect x="1065.06" y="297.0" width="3" height="22.7" fill="#26a69a"/>
<rect x="1069.47" y="278.2" width="1.4" height="11.6" fill="#26a69a"/>
<rect x="1068.67" y="284.3" width="3" height="5.5" fill="#26a69a"/>
<rect x="1073.07" y="275.2" width="1.4" height="15.7" fill="#26a69a"/>
<rect x="1072.27" y="283.0" width="3" height="5.2" fill="#26a69a"/>
<rect x="1076.67" y="274.1" width="1.4" height="20.7" fill="#26a69a"/>
<rect x="1075.88" y="281.9" width="3" height="11.8" fill="#26a69a"/>
<rect x="1080.28" y="267.1" width="1.4" height="17.7" fill="#26a69a"/>
<rect x="1079.48" y="269.0" width="3" height="7.5" fill="#26a69a"/>
<rect x="1083.88" y="267.1" width="1.4" height="8.8" fill="#ef5350"/>
<rect x="1083.09" y="269.0" width="3" height="6.6" fill="#ef5350"/>
<rect x="1087.49" y="270.1" width="1.4" height="18.0" fill="#ef5350"/>
<rect x="1086.69" y="275.2" width="3" height="2.4" fill="#ef5350"/>
<rect x="1091.10" y="273.0" width="1.4" height="20.7" fill="#ef5350"/>
<rect x="1090.30" y="274.9" width="3" height="9.2" fill="#ef5350"/>
<rect x="1094.70" y="291.9" width="1.4" height="17.9" fill="#ef5350"/>
<rect x="1093.90" y="293.8" width="3" height="3.0" fill="#ef5350"/>
<rect x="1098.31" y="283.9" width="1.4" height="13.8" fill="#26a69a"/>
<rect x="1097.51" y="291.1" width="3" height="6.6" fill="#26a69a"/>
<rect x="1101.91" y="283.1" width="1.4" height="18.8" fill="#ef5350"/>
<rect x="1101.11" y="289.1" width="3" height="12.8" fill="#ef5350"/>
<rect x="1105.52" y="291.9" width="1.4" height="60.8" fill="#ef5350"/>
<rect x="1104.72" y="306.0" width="3" height="46.8" fill="#ef5350"/>
<rect x="1109.12" y="320.9" width="1.4" height="57.0" fill="#26a69a"/>
<rect x="1108.32" y="329.2" width="3" height="40.6" fill="#26a69a"/>
<rect x="1112.73" y="317.9" width="1.4" height="16.0" fill="#ef5350"/>
<rect x="1111.93" y="323.1" width="3" height="6.9" fill="#ef5350"/>
<rect x="1116.33" y="300.1" width="1.4" height="42.9" fill="#26a69a"/>
<rect x="1115.53" y="300.1" width="3" height="29.9" fill="#26a69a"/>
<rect x="1119.93" y="283.1" width="1.4" height="21.8" fill="#26a69a"/>
<rect x="1119.13" y="283.1" width="3" height="17.4" fill="#26a69a"/>
<rect x="1123.54" y="280.9" width="1.4" height="10.2" fill="#ef5350"/>
<rect x="1122.74" y="283.9" width="3" height="1.9" fill="#ef5350"/>
<rect x="1127.14" y="259.9" width="1.4" height="17.3" fill="#26a69a"/>
<rect x="1126.35" y="259.9" width="3" height="15.3" fill="#26a69a"/>
<rect x="1130.75" y="258.0" width="1.4" height="19.1" fill="#ef5350"/>
<rect x="1129.95" y="265.0" width="3" height="8.0" fill="#ef5350"/>
<rect x="1134.36" y="256.9" width="1.4" height="9.2" fill="#26a69a"/>
<rect x="1133.56" y="259.1" width="3" height="2.8" fill="#26a69a"/>
<rect x="1137.96" y="248.8" width="1.4" height="15.0" fill="#26a69a"/>
<rect x="1137.16" y="249.7" width="3" height="13.3" fill="#26a69a"/>
<rect x="1141.57" y="240.3" width="1.4" height="11.6" fill="#ef5350"/>
<rect x="1140.77" y="248.0" width="3" height="3.9" fill="#ef5350"/>
<rect x="1145.17" y="240.8" width="1.4" height="12.2" fill="#ef5350"/>
<rect x="1144.37" y="244.2" width="3" height="7.7" fill="#ef5350"/>
<rect x="1148.78" y="225.1" width="1.4" height="28.8" fill="#26a69a"/>
<rect x="1147.98" y="227.0" width="3" height="26.0" fill="#26a69a"/>
<rect x="1152.38" y="216.0" width="1.4" height="10.5" fill="#26a69a"/>
<rect x="1151.58" y="217.1" width="3" height="7.0" fill="#26a69a"/>
<rect x="1155.99" y="216.0" width="1.4" height="12.2" fill="#ef5350"/>
<rect x="1155.19" y="220.4" width="3" height="3.7" fill="#ef5350"/>
<rect x="1159.59" y="216.0" width="1.4" height="12.9" fill="#26a69a"/>
<rect x="1158.79" y="218.9" width="3" height="5.3" fill="#26a69a"/>
<rect x="1163.19" y="204.9" width="1.4" height="13.3" fill="#26a69a"/>
<rect x="1162.39" y="206.0" width="3" height="12.2" fill="#26a69a"/>
<rect x="1166.80" y="206.0" width="1.4" height="19.9" fill="#ef5350"/>
<rect x="1166.00" y="206.0" width="3" height="18.3" fill="#ef5350"/>
</g>
<line x1="14" y1="224.5" x2="1351" y2="224.5" stroke="#ef5350" stroke-width="1" stroke-dasharray="1 2" shape-rendering="crispEdges"/>
</g>
<circle cx="258.6" cy="811.4" r="14.3" fill="#0f0f0f"/>
<circle cx="258.6" cy="811.4" r="12.3" fill="#0f0f0f" stroke="#2962ff" stroke-width="2"/>
<text x="254.4" y="817.1" font-family="'Liberation Sans',sans-serif" font-size="15" font-weight="bold" fill="#2962ff" textLength="9.4" lengthAdjust="spacingAndGlyphs">D</text>
<circle cx="302.4" cy="811.4" r="14.3" fill="#0f0f0f"/>
<circle cx="302.4" cy="811.4" r="12.3" fill="#0f0f0f" stroke="#2962ff" stroke-width="2"/>
<text x="298.2" y="817.1" font-family="'Liberation Sans',sans-serif" font-size="15" font-weight="bold" fill="#2962ff" textLength="9.4" lengthAdjust="spacingAndGlyphs">D</text>
<circle cx="356.2" cy="811.4" r="14.3" fill="#0f0f0f"/>
<circle cx="356.2" cy="811.4" r="12.3" fill="#0f0f0f" stroke="#2962ff" stroke-width="2"/>
<text x="352.0" y="817.1" font-family="'Liberation Sans',sans-serif" font-size="15" font-weight="bold" fill="#2962ff" textLength="9.4" lengthAdjust="spacingAndGlyphs">D</text>
<circle cx="399.4" cy="811.4" r="14.3" fill="#0f0f0f"/>
<circle cx="399.4" cy="811.4" r="12.3" fill="#0f0f0f" stroke="#2962ff" stroke-width="2"/>
<text x="395.2" y="817.1" font-family="'Liberation Sans',sans-serif" font-size="15" font-weight="bold" fill="#2962ff" textLength="9.4" lengthAdjust="spacingAndGlyphs">D</text>
<circle cx="449.6" cy="811.4" r="14.3" fill="#0f0f0f"/>
<circle cx="449.6" cy="811.4" r="12.3" fill="#0f0f0f" stroke="#2962ff" stroke-width="2"/>
<text x="445.4" y="817.1" font-family="'Liberation Sans',sans-serif" font-size="15" font-weight="bold" fill="#2962ff" textLength="9.4" lengthAdjust="spacingAndGlyphs">D</text>
<circle cx="489.5" cy="811.4" r="14.3" fill="#0f0f0f"/>
<circle cx="489.5" cy="811.4" r="12.3" fill="#0f0f0f" stroke="#2962ff" stroke-width="2"/>
<text x="485.3" y="817.1" font-family="'Liberation Sans',sans-serif" font-size="15" font-weight="bold" fill="#2962ff" textLength="9.4" lengthAdjust="spacingAndGlyphs">D</text>
<circle cx="543.5" cy="811.4" r="14.3" fill="#0f0f0f"/>
<circle cx="543.5" cy="811.4" r="12.3" fill="#0f0f0f" stroke="#2962ff" stroke-width="2"/>
<text x="539.3" y="817.1" font-family="'Liberation Sans',sans-serif" font-size="15" font-weight="bold" fill="#2962ff" textLength="9.4" lengthAdjust="spacingAndGlyphs">D</text>
<circle cx="590.6" cy="811.4" r="14.3" fill="#0f0f0f"/>
<circle cx="590.6" cy="811.4" r="12.3" fill="#0f0f0f" stroke="#2962ff" stroke-width="2"/>
<text x="586.4" y="817.1" font-family="'Liberation Sans',sans-serif" font-size="15" font-weight="bold" fill="#2962ff" textLength="9.4" lengthAdjust="spacingAndGlyphs">D</text>
<circle cx="637.4" cy="811.4" r="14.3" fill="#0f0f0f"/>
<circle cx="637.4" cy="811.4" r="12.3" fill="#0f0f0f" stroke="#2962ff" stroke-width="2"/>
<text x="633.2" y="817.1" font-family="'Liberation Sans',sans-serif" font-size="15" font-weight="bold" fill="#2962ff" textLength="9.4" lengthAdjust="spacingAndGlyphs">D</text>
<circle cx="677.1" cy="811.4" r="14.3" fill="#0f0f0f"/>
<circle cx="677.1" cy="811.4" r="12.3" fill="#0f0f0f" stroke="#2962ff" stroke-width="2"/>
<text x="672.9" y="817.1" font-family="'Liberation Sans',sans-serif" font-size="15" font-weight="bold" fill="#2962ff" textLength="9.4" lengthAdjust="spacingAndGlyphs">D</text>
<circle cx="731.4" cy="811.4" r="14.3" fill="#0f0f0f"/>
<circle cx="731.4" cy="811.4" r="12.3" fill="#0f0f0f" stroke="#2962ff" stroke-width="2"/>
<text x="727.2" y="817.1" font-family="'Liberation Sans',sans-serif" font-size="15" font-weight="bold" fill="#2962ff" textLength="9.4" lengthAdjust="spacingAndGlyphs">D</text>
<circle cx="778.3" cy="811.4" r="14.3" fill="#0f0f0f"/>
<circle cx="778.3" cy="811.4" r="12.3" fill="#0f0f0f" stroke="#2962ff" stroke-width="2"/>
<text x="774.1" y="817.1" font-family="'Liberation Sans',sans-serif" font-size="15" font-weight="bold" fill="#2962ff" textLength="9.4" lengthAdjust="spacingAndGlyphs">D</text>
<circle cx="824.7" cy="811.4" r="14.3" fill="#0f0f0f"/>
<circle cx="824.7" cy="811.4" r="12.3" fill="#0f0f0f" stroke="#2962ff" stroke-width="2"/>
<text x="820.5" y="817.1" font-family="'Liberation Sans',sans-serif" font-size="15" font-weight="bold" fill="#2962ff" textLength="9.4" lengthAdjust="spacingAndGlyphs">D</text>
<circle cx="864.6" cy="811.4" r="14.3" fill="#0f0f0f"/>
<circle cx="864.6" cy="811.4" r="12.3" fill="#0f0f0f" stroke="#2962ff" stroke-width="2"/>
<text x="860.4" y="817.1" font-family="'Liberation Sans',sans-serif" font-size="15" font-weight="bold" fill="#2962ff" textLength="9.4" lengthAdjust="spacingAndGlyphs">D</text>
<circle cx="918.6" cy="811.4" r="14.3" fill="#0f0f0f"/>
<circle cx="918.6" cy="811.4" r="12.3" fill="#0f0f0f" stroke="#2962ff" stroke-width="2"/>
<text x="914.4" y="817.1" font-family="'Liberation Sans',sans-serif" font-size="15" font-weight="bold" fill="#2962ff" textLength="9.4" lengthAdjust="spacingAndGlyphs">D</text>
<circle cx="965.6" cy="811.4" r="14.3" fill="#0f0f0f"/>
<circle cx="965.6" cy="811.4" r="12.3" fill="#0f0f0f" stroke="#2962ff" stroke-width="2"/>
<text x="961.4" y="817.1" font-family="'Liberation Sans',sans-serif" font-size="15" font-weight="bold" fill="#2962ff" textLength="9.4" lengthAdjust="spacingAndGlyphs">D</text>
<circle cx="1012.4" cy="811.4" r="14.3" fill="#0f0f0f"/>
<circle cx="1012.4" cy="811.4" r="12.3" fill="#0f0f0f" stroke="#2962ff" stroke-width="2"/>
<text x="1008.2" y="817.1" font-family="'Liberation Sans',sans-serif" font-size="15" font-weight="bold" fill="#2962ff" textLength="9.4" lengthAdjust="spacingAndGlyphs">D</text>
<circle cx="1052.3" cy="811.4" r="14.3" fill="#0f0f0f"/>
<circle cx="1052.3" cy="811.4" r="12.3" fill="#0f0f0f" stroke="#2962ff" stroke-width="2"/>
<text x="1048.1" y="817.1" font-family="'Liberation Sans',sans-serif" font-size="15" font-weight="bold" fill="#2962ff" textLength="9.4" lengthAdjust="spacingAndGlyphs">D</text>
<circle cx="1106.5" cy="811.4" r="14.3" fill="#0f0f0f"/>
<circle cx="1106.5" cy="811.4" r="12.3" fill="#0f0f0f" stroke="#2962ff" stroke-width="2"/>
<text x="1102.3" y="817.1" font-family="'Liberation Sans',sans-serif" font-size="15" font-weight="bold" fill="#2962ff" textLength="9.4" lengthAdjust="spacingAndGlyphs">D</text>
<circle cx="1167.6" cy="811.4" r="14.3" fill="#0f0f0f"/>
<circle cx="1167.6" cy="811.4" r="12.3" fill="#0f0f0f" stroke="#b84fd0" stroke-width="2"/>
<path d="M1172 804.6 L1167.6 810.9 L1168.9 811.5 L1166.8 816.1 L1174.2 810.1 L1171 809.2 Z" fill="#b84fd0"/>
<circle cx="1153.4" cy="811.4" r="14.3" fill="#0f0f0f"/>
<circle cx="1153.4" cy="811.4" r="12.3" fill="#0f0f0f" stroke="#2962ff" stroke-width="2"/>
<text x="1149.2" y="817.1" font-family="'Liberation Sans',sans-serif" font-size="15" font-weight="bold" fill="#2962ff" textLength="9.4" lengthAdjust="spacingAndGlyphs">D</text>
<g shape-rendering="crispEdges">
<rect x="14" y="828" width="1337" height="1" fill="#343844"/>
<rect x="1351" y="35" width="1" height="828" fill="#343844"/>
<rect x="1351" y="826" width="82" height="1" fill="#05070f"/>
<rect x="1351" y="827" width="82" height="1" fill="#ffffff"/>
</g>
<text x="1362" y="113.1" font-family="'Liberation Sans',sans-serif" font-size="15.8" fill="#b2b5be" textLength="37" lengthAdjust="spacingAndGlyphs">67.50</text>
<text x="1362" y="158.1" font-family="'Liberation Sans',sans-serif" font-size="15.8" fill="#b2b5be" textLength="37" lengthAdjust="spacingAndGlyphs">65.00</text>
<text x="1362" y="204.1" font-family="'Liberation Sans',sans-serif" font-size="15.8" fill="#b2b5be" textLength="37" lengthAdjust="spacingAndGlyphs">62.50</text>
<text x="1362" y="340.1" font-family="'Liberation Sans',sans-serif" font-size="15.8" fill="#b2b5be" textLength="37" lengthAdjust="spacingAndGlyphs">55.00</text>
<text x="1362" y="385.1" font-family="'Liberation Sans',sans-serif" font-size="15.8" fill="#b2b5be" textLength="37" lengthAdjust="spacingAndGlyphs">52.50</text>
<text x="1362" y="430.1" font-family="'Liberation Sans',sans-serif" font-size="15.8" fill="#b2b5be" textLength="37" lengthAdjust="spacingAndGlyphs">50.00</text>
<text x="1362" y="476.1" font-family="'Liberation Sans',sans-serif" font-size="15.8" fill="#b2b5be" textLength="37" lengthAdjust="spacingAndGlyphs">47.50</text>
<text x="1362" y="521.1" font-family="'Liberation Sans',sans-serif" font-size="15.8" fill="#b2b5be" textLength="37" lengthAdjust="spacingAndGlyphs">45.00</text>
<text x="1362" y="567.1" font-family="'Liberation Sans',sans-serif" font-size="15.8" fill="#b2b5be" textLength="37" lengthAdjust="spacingAndGlyphs">42.50</text>
<text x="1362" y="612.1" font-family="'Liberation Sans',sans-serif" font-size="15.8" fill="#b2b5be" textLength="37" lengthAdjust="spacingAndGlyphs">40.00</text>
<text x="1362" y="657.1" font-family="'Liberation Sans',sans-serif" font-size="15.8" fill="#b2b5be" textLength="37" lengthAdjust="spacingAndGlyphs">37.50</text>
<text x="1362" y="703.1" font-family="'Liberation Sans',sans-serif" font-size="15.8" fill="#b2b5be" textLength="37" lengthAdjust="spacingAndGlyphs">35.00</text>
<text x="1362" y="748.1" font-family="'Liberation Sans',sans-serif" font-size="15.8" fill="#b2b5be" textLength="37" lengthAdjust="spacingAndGlyphs">32.50</text>
<text x="1362" y="793.1" font-family="'Liberation Sans',sans-serif" font-size="15.8" fill="#b2b5be" textLength="37" lengthAdjust="spacingAndGlyphs">30.00</text>
<defs><clipPath id="taxis"><rect x="14" y="829" width="1337" height="33"/></clipPath></defs>
<g clip-path="url(#taxis)">
<text x="24.0" y="851" font-family="'Liberation Sans',sans-serif" font-size="15.4" fill="#b2b5be" text-anchor="middle" textLength="19.6" lengthAdjust="spacingAndGlyphs">Jul</text>
<text x="121.5" y="851" font-family="'Liberation Sans',sans-serif" font-size="15.4" font-weight="bold" fill="#c6c9d2" text-anchor="middle" textLength="34" lengthAdjust="spacingAndGlyphs">2020</text>
<text x="215.0" y="851" font-family="'Liberation Sans',sans-serif" font-size="15.4" fill="#b2b5be" text-anchor="middle" textLength="19.6" lengthAdjust="spacingAndGlyphs">Jul</text>
<text x="309.0" y="851" font-family="'Liberation Sans',sans-serif" font-size="15.4" font-weight="bold" fill="#c6c9d2" text-anchor="middle" textLength="34" lengthAdjust="spacingAndGlyphs">2021</text>
<text x="402.5" y="851" font-family="'Liberation Sans',sans-serif" font-size="15.4" fill="#b2b5be" text-anchor="middle" textLength="19.6" lengthAdjust="spacingAndGlyphs">Jul</text>
<text x="496.5" y="851" font-family="'Liberation Sans',sans-serif" font-size="15.4" font-weight="bold" fill="#c6c9d2" text-anchor="middle" textLength="34" lengthAdjust="spacingAndGlyphs">2022</text>
<text x="590.0" y="851" font-family="'Liberation Sans',sans-serif" font-size="15.4" fill="#b2b5be" text-anchor="middle" textLength="19.6" lengthAdjust="spacingAndGlyphs">Jul</text>
<text x="684.5" y="851" font-family="'Liberation Sans',sans-serif" font-size="15.4" font-weight="bold" fill="#c6c9d2" text-anchor="middle" textLength="34" lengthAdjust="spacingAndGlyphs">2023</text>
<text x="777.5" y="851" font-family="'Liberation Sans',sans-serif" font-size="15.4" fill="#b2b5be" text-anchor="middle" textLength="19.6" lengthAdjust="spacingAndGlyphs">Jul</text>
<text x="871.5" y="851" font-family="'Liberation Sans',sans-serif" font-size="15.4" font-weight="bold" fill="#c6c9d2" text-anchor="middle" textLength="34" lengthAdjust="spacingAndGlyphs">2024</text>
<text x="965.0" y="851" font-family="'Liberation Sans',sans-serif" font-size="15.4" fill="#b2b5be" text-anchor="middle" textLength="19.6" lengthAdjust="spacingAndGlyphs">Jul</text>
<text x="1062.5" y="851" font-family="'Liberation Sans',sans-serif" font-size="15.4" font-weight="bold" fill="#c6c9d2" text-anchor="middle" textLength="34" lengthAdjust="spacingAndGlyphs">2025</text>
<text x="1156.0" y="851" font-family="'Liberation Sans',sans-serif" font-size="15.4" fill="#b2b5be" text-anchor="middle" textLength="19.6" lengthAdjust="spacingAndGlyphs">Jul</text>
<text x="1250.5" y="851" font-family="'Liberation Sans',sans-serif" font-size="15.4" font-weight="bold" fill="#c6c9d2" text-anchor="middle" textLength="34" lengthAdjust="spacingAndGlyphs">2026</text>
<text x="1344.0" y="851" font-family="'Liberation Sans',sans-serif" font-size="15.4" fill="#b2b5be" text-anchor="middle" textLength="19.6" lengthAdjust="spacingAndGlyphs">Jul</text>
</g>
<path d="M1314 214 H1351 V235 H1314 a2 2 0 0 1 -2 -2 V216 a2 2 0 0 1 2 -2 Z" fill="#ef5350"/>
<text x="1331.5" y="230" font-family="'Liberation Sans',sans-serif" font-size="15.2" fill="#fff" text-anchor="middle" textLength="29" lengthAdjust="spacingAndGlyphs">AOR</text>
<path d="M1352 214 H1426 a2 2 0 0 1 2 2 V251 a2 2 0 0 1 -2 2 H1352 Z" fill="#ef5350"/>
<text x="1363" y="230" font-family="'Liberation Sans',sans-serif" font-size="14.8" fill="#fff" textLength="36.5" lengthAdjust="spacingAndGlyphs">61.07</text>
<text x="1363" y="248" font-family="'Liberation Sans',sans-serif" font-size="14.8" fill="#fff" fill-opacity="0.72" textLength="59" lengthAdjust="spacingAndGlyphs">04:39:10</text>
<path d="M1352 253.0 H1403.5 a2 2 0 0 1 2 2 V270.7 a2 2 0 0 1 -2 2 H1352 Z" fill="#4caf50"/>
<text x="1363" y="268.6" font-family="'Liberation Sans',sans-serif" font-size="14.8" fill="#fff" textLength="36.5" lengthAdjust="spacingAndGlyphs">60.97</text>
<path d="M1352 274.2 H1403.5 a2 2 0 0 1 2 2 V293.0 a2 2 0 0 1 -2 2 H1352 Z" fill="#4caf50"/>
<text x="1363" y="289.8" font-family="'Liberation Sans',sans-serif" font-size="14.8" fill="#fff" textLength="36.5" lengthAdjust="spacingAndGlyphs">58.52</text>
<path d="M1352 311.3 H1403.5 a2 2 0 0 1 2 2 V330.1 a2 2 0 0 1 -2 2 H1352 Z" fill="#4caf50"/>
<text x="1363" y="326.9" font-family="'Liberation Sans',sans-serif" font-size="14.8" fill="#fff" textLength="36.5" lengthAdjust="spacingAndGlyphs">55.71</text>
<rect x="1355.5" y="38.5" width="73.5" height="33.2" rx="5" fill="#0f0f0f" stroke="#3c3c3f" stroke-width="1.2"/>
<text x="1367" y="59.8" font-family="'Liberation Sans',sans-serif" font-size="14.8" fill="#d1d4dc" textLength="26" lengthAdjust="spacingAndGlyphs">USD</text>
<text y="58.7" font-family="'Liberation Sans',sans-serif" font-size="14"> <tspan x="23.8" fill="#c4c7d0" textLength="292.7" lengthAdjust="spacingAndGlyphs">iShares Core 60/40 Balanced Allocation ETF</tspan> <tspan x="320.8" fill="#c4c7d0" font-weight="bold" font-size="19" dy="1.7">·</tspan> <tspan x="332.0" fill="#c4c7d0" textLength="19.2" lengthAdjust="spacingAndGlyphs" dy="-1.7">1W</tspan> <tspan x="356.7" fill="#c4c7d0" font-weight="bold" font-size="19" dy="1.7">·</tspan> <tspan x="366.8" fill="#c4c7d0" textLength="31.7" lengthAdjust="spacingAndGlyphs" dy="-1.7">NYSE</tspan> <tspan x="404.1" fill="#c4c7d0" textLength="29.6" lengthAdjust="spacingAndGlyphs">Arca</tspan> <tspan x="443.4" fill="#c4c7d0" textLength="9.5" lengthAdjust="spacingAndGlyphs">O</tspan> <tspan x="453.9" fill="#ef5350" textLength="35.2" lengthAdjust="spacingAndGlyphs">62.01</tspan> <tspan x="499.6" fill="#c4c7d0" textLength="9.0" lengthAdjust="spacingAndGlyphs">H</tspan> <tspan x="509.8" fill="#ef5350" textLength="34.6" lengthAdjust="spacingAndGlyphs">62.01</tspan> <tspan x="556.3" fill="#c4c7d0" textLength="6.5" lengthAdjust="spacingAndGlyphs">L</tspan> <tspan x="563.2" fill="#ef5350" textLength="35.4" lengthAdjust="spacingAndGlyphs">60.96</tspan> <tspan x="609.4" fill="#c4c7d0" textLength="8.5" lengthAdjust="spacingAndGlyphs">C</tspan> <tspan x="618.5" fill="#ef5350" textLength="34.6" lengthAdjust="spacingAndGlyphs">61.07</tspan> <tspan x="665.0" fill="#ef5350" textLength="33.5" lengthAdjust="spacingAndGlyphs">−0.99</tspan> <tspan x="703.8" fill="#ef5350" textLength="58.0" lengthAdjust="spacingAndGlyphs">(−1.60%)</tspan></text>
<text y="24.6" font-family="'Liberation Sans',sans-serif" font-size="14"> <tspan x="13.3" fill="#131722" textLength="35.4" lengthAdjust="spacingAndGlyphs">zabla</tspan> <tspan x="53.7" fill="#131722" textLength="51.4" lengthAdjust="spacingAndGlyphs">created</tspan> <tspan x="110.1" fill="#131722" textLength="27.1" lengthAdjust="spacingAndGlyphs">with</tspan> <tspan x="143.8" fill="#131722" textLength="114.6" lengthAdjust="spacingAndGlyphs">TradingView.com,</tspan> <tspan x="266.7" fill="#131722" textLength="25.4" lengthAdjust="spacingAndGlyphs">Aug</tspan> <tspan x="297.6" fill="#131722" textLength="18.3" lengthAdjust="spacingAndGlyphs">01,</tspan> <tspan x="322.0" fill="#131722" textLength="30.4" lengthAdjust="spacingAndGlyphs">2025</tspan> <tspan x="358.5" fill="#131722" textLength="34.3" lengthAdjust="spacingAndGlyphs">15:20</tspan> <tspan x="399.4" fill="#131722" textLength="26.6" lengthAdjust="spacingAndGlyphs">UTC</tspan></text>
</svg>
<div id="logo"><svg width="130" height="22" viewBox="0 0 130 22">
<path d="M0 4.8 H10 V16.9 H4.7 V9.5 H0 Z" fill="#131722"/>
<circle cx="13.8" cy="7.3" r="2.5" fill="#131722"/>
<path d="M17.7 4.8 H24.2 L19.2 16.9 H14.1 Z" fill="#131722"/>
<text x="28.9" y="16.9" font-family="'Liberation Sans',sans-serif" font-size="15.5" fill="#1e222d" textLength="87" lengthAdjust="spacingAndGlyphs">TradingView</text>
</svg></div>
</body></html>
